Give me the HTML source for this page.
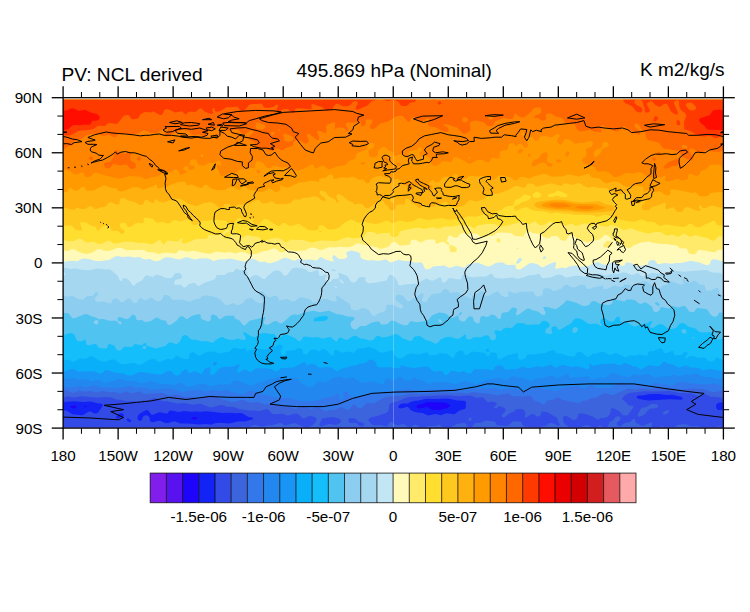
<!DOCTYPE html>
<html><head><meta charset="utf-8"><style>
html,body{margin:0;padding:0;background:#fff;width:750px;height:612px;overflow:hidden}
body{position:relative;font-family:"Liberation Sans",sans-serif;color:#000}
svg{position:absolute;left:0;top:0}
.t{position:absolute;font-size:19px;line-height:20px;white-space:nowrap}
.yl{position:absolute;left:0;width:42.5px;text-align:right;font-size:15.2px;line-height:17px}
.xl{position:absolute;top:447px;width:80px;text-align:center;font-size:15.2px;line-height:17px}
.cl{position:absolute;top:508px;width:100px;text-align:center;font-size:15.2px;line-height:17px}
</style></head><body>
<svg width="750" height="612" viewBox="0 0 750 612">
<defs><clipPath id="fc"><rect x="63.10" y="99.72" width="660.30" height="327.46"/></clipPath><clipPath id="mc"><rect x="63.10" y="97.70" width="660.30" height="330.40"/></clipPath></defs>
<g clip-path="url(#fc)">
<rect x="63.1" y="97.7" width="660.3" height="330.4" fill="#821eeb"/>
<path fill="#5812f0" fill-rule="evenodd" d="M63.1 428.1l660.3 0.0l0.0 -330.4l-660.3 0.0l0.0 330.4Z"/>
<path fill="#1e05fa" fill-rule="evenodd" d="M63.1 428.1l660.3 0.0l0.0 -330.4l-660.3 0.0l0.0 330.4Z"/>
<path fill="#1423f5" fill-rule="evenodd" d="M63.1 428.1l660.3 0.0l0.0 -330.4l-660.3 0.0l0.0 330.4ZM72.3 408.4l-1.0 -0.5l-1.0 -1.8l3.8 -0.7l2.4 0.7l-0.6 1.8l-1.8 0.6l-1.8 -0.1ZM85.1 407.4l-1.5 -1.3l1.5 -0.4l2.1 0.4l-2.1 1.3ZM191.5 419.0l-0.0 -1.6l1.8 -0.4l3.0 0.1l1.2 1.8l-2.3 0.7l-3.7 -0.6ZM433.6 410.1l-1.8 -0.4l-3.7 -2.3l-1.8 -0.5l-5.5 1.7l-1.9 -0.0l-1.8 -0.7l-0.8 -1.8l2.6 -1.6l3.7 -0.6l3.5 -1.5l2.0 -0.3l16.5 0.4l4.5 1.7l1.2 1.9l-2.5 1.8l-8.7 2.0l-5.5 0.2Z"/>
<path fill="#324be6" fill-rule="evenodd" d="M63.1 428.1l660.3 0.0l0.0 -17.9l-5.7 -0.5l-1.5 -1.8l-0.1 -1.8l0.3 -1.9l1.5 -1.1l5.5 -1.0l0.0 -304.4l-660.3 0.0l-0.0 304.4l11.0 -0.8l9.2 0.6l7.3 -0.5l5.5 1.5l5.5 0.8l1.1 0.5l-0.1 1.9l-2.8 4.1l-1.9 2.5l-1.8 0.8l-1.8 -0.1l-3.7 -2.0l-1.8 0.2l-5.5 3.5l-1.9 0.2l-9.1 -1.1l-5.5 -3.4l-3.7 -0.6l0.0 17.9ZM116.3 419.1l-0.1 -2.0l2.7 -3.7l2.9 -0.4l1.0 0.4l1.3 1.9l-0.5 1.3l-0.8 0.5l-6.5 2.0ZM127.3 421.1l-0.8 -2.2l0.8 -0.5l2.2 0.5l2.0 1.9l-0.5 0.9l-1.9 0.6l-1.8 -1.2ZM209.8 424.4l-3.7 -0.5l-7.3 0.5l-11.0 -1.0l-7.3 -0.0l-5.5 -1.8l-1.9 -0.0l-3.6 1.2l-3.7 0.5l-5.5 -2.2l-1.8 -0.3l-5.5 1.4l-1.9 -0.2l-1.2 -1.2l-0.6 -3.7l-1.8 -1.7l-1.9 -0.1l-1.8 0.7l-0.9 1.1l-0.9 2.8l-1.9 1.2l-1.8 -1.0l-0.7 -1.2l0.0 -1.8l0.7 -2.0l1.7 -1.7l5.6 -3.2l1.9 -0.2l1.7 1.6l1.9 2.8l1.9 0.3l5.5 -2.2l1.8 -0.3l5.5 1.3l1.8 -0.2l1.9 -2.5l1.8 -0.4l7.4 1.5l5.5 -1.0l7.3 0.9l3.7 -0.4l5.5 0.4l5.5 -0.6l16.5 1.8l7.3 -0.3l5.5 0.5l5.5 -0.1l1.8 0.4l5.6 3.5l3.6 0.5l1.6 1.4l-8.9 2.5l-7.4 0.2l-7.3 1.8l-11.0 -0.6l-3.7 0.4l-3.6 1.3l-1.9 -0.1ZM428.1 415.6l-5.5 -2.6l-5.5 -0.5l-3.7 -1.0l-3.1 -1.8l-2.4 -2.9l-7.3 1.6l-2.1 -0.5l-0.0 -1.8l1.8 -1.9l2.1 -0.8l5.5 0.1l1.7 -1.1l3.8 -1.3l5.5 -0.5l7.4 -1.8l9.1 0.2l12.9 -0.6l9.1 2.2l7.4 0.2l1.2 1.6l-0.3 5.5l-0.9 1.0l-5.5 1.7l-3.7 2.8l-1.8 0.8l-7.4 -1.0l-5.5 2.0l-5.5 -1.1l-7.3 1.5ZM639.0 399.0l-1.0 -0.2l-1.6 -1.9l0.8 -0.8l1.8 -0.6l3.7 0.1l5.5 -1.4l3.7 -0.2l7.3 0.0l7.3 1.0l5.5 -0.3l9.2 2.1l1.9 1.9l-1.9 1.1l-11.0 -0.6l-22.0 1.3l-9.2 -1.5Z"/>
<path fill="#3c64dc" fill-rule="evenodd" d="M71.7 428.1l0.6 0.0l3.6 -0.0l-1.8 -0.3l-2.4 0.3ZM85.8 428.1l1.1 0.0l8.2 -0.0l-2.7 -0.8l-3.6 -0.4l-1.9 0.3l-1.1 0.9ZM166.6 428.1l1.1 0.0l5.2 -0.0l-3.4 -0.8l-2.9 0.8ZM220.4 428.1l0.4 0.0l0.2 -0.0l-0.2 -0.1l-0.4 0.1ZM228.4 428.1l239.7 0.0l-1.6 -3.7l-1.7 -1.4l-3.7 0.2l-3.7 0.7l-5.5 2.8l-5.5 1.3l-3.6 -0.5l-3.7 -2.9l-3.7 1.5l-7.3 -0.1l-5.5 1.5l-1.8 -0.3l-5.5 -2.6l-1.9 0.6l-1.8 1.4l-1.8 0.4l-2.6 -0.7l-2.9 -2.1l-1.9 -0.1l-3.6 1.1l-1.9 -0.1l-2.2 -0.7l-3.3 -2.5l-1.8 0.3l-1.9 3.8l-1.8 0.6l-5.5 -1.7l-5.5 0.3l-1.8 -0.3l-1.9 -1.1l-2.7 -3.0l-0.1 -1.9l2.8 -1.7l7.4 -1.4l1.8 -1.0l5.5 -1.6l1.8 -1.2l1.1 -2.3l0.6 -5.5l2.0 -1.5l5.5 -1.3l11.0 -4.1l3.7 -0.6l5.5 0.2l7.3 -0.8l7.4 0.0l5.5 -0.7l11.0 -0.1l9.1 1.0l12.9 -0.7l4.4 1.3l1.1 1.0l5.5 -0.7l1.8 0.4l3.7 4.0l1.8 0.5l3.7 -0.5l3.7 0.8l1.1 1.8l-2.3 1.9l-0.7 1.8l1.9 0.7l1.2 -0.7l0.6 -1.0l1.8 -0.8l5.0 1.8l1.2 1.8l-0.7 1.9l-2.0 1.8l-1.1 1.9l-0.2 1.8l1.5 0.5l1.8 -0.6l3.7 -3.3l5.3 -2.1l2.0 -2.3l1.9 -0.4l3.6 0.2l1.8 0.6l1.7 1.9l0.4 1.8l-0.7 3.7l0.5 1.0l5.5 -3.6l1.8 -0.4l1.9 0.5l1.8 1.4l1.8 0.8l2.5 -1.5l1.2 -3.8l5.5 0.7l9.2 5.2l1.0 1.5l0.8 3.7l1.7 1.8l-1.7 1.5l-3.6 -1.9l-3.7 -1.1l-1.8 -0.0l-1.3 1.5l-2.4 1.5l-11.0 1.7l-10.5 -1.3l-1.8 -1.9l-0.6 -2.4l-1.8 -0.4l-5.5 -0.3l-1.8 0.5l-3.7 3.3l-1.8 0.9l-1.9 0.1l-7.3 -0.9l-1.6 -0.8l-0.5 -1.8l-1.6 -1.2l-9.1 -0.8l-3.2 2.0l-6.0 0.4l-1.8 0.9l-1.4 2.4l-1.9 1.8l99.3 -0.0l-2.5 -2.3l-2.4 -1.4l-1.6 -1.8l-0.5 -3.7l0.1 -1.8l0.7 -1.0l1.9 -0.2l1.8 0.5l5.5 3.5l1.8 -0.1l1.5 -0.9l1.4 -1.8l0.8 -3.4l3.7 -0.3l3.6 0.6l7.8 3.1l3.2 2.2l1.9 0.4l1.8 -1.4l5.5 -0.7l1.8 -1.1l2.6 -3.1l0.3 -3.7l0.8 -1.7l1.9 0.2l6.2 3.4l3.3 3.7l3.3 0.3l1.8 -0.7l4.9 -7.0l0.6 -1.5l0.9 -0.3l-4.5 -0.5l-1.9 -0.7l-1.8 -2.5l-4.3 -3.7l3.3 -3.6l4.7 -2.2l14.6 -1.6l9.2 0.2l16.5 -0.6l9.2 2.0l11.2 0.3l1.6 0.3l5.5 2.5l1.9 -0.0l3.6 -1.8l1.9 -0.1l5.5 2.6l6.6 0.2l6.2 1.0l0.0 -300.2l-660.3 0.0l0.0 300.2l3.7 -1.4l1.8 -0.1l5.5 1.0l7.3 -1.1l16.5 1.5l5.6 -0.8l5.5 0.2l1.8 0.1l5.5 2.1l5.5 0.6l5.5 1.6l5.5 -0.6l7.3 0.5l3.7 -1.1l5.5 -0.3l3.7 -1.6l1.8 -0.3l1.8 0.3l5.5 2.5l5.5 0.3l9.2 2.3l7.4 -0.6l9.1 1.7l3.7 -0.8l3.7 -0.1l7.3 2.9l3.7 0.8l9.1 -2.5l1.9 -0.1l3.6 1.9l7.4 0.1l5.5 2.2l9.2 1.3l5.5 0.1l5.5 0.8l5.5 -1.9l1.8 -0.1l1.8 0.4l3.7 4.0l1.8 0.6l9.2 -0.5l3.7 1.7l1.8 0.0l5.5 -1.8l1.8 -0.1l1.9 0.4l1.8 1.2l1.8 2.3l1.9 0.9l1.8 -0.1l3.7 -2.3l1.8 -0.1l4.3 1.2l1.9 1.8l-1.6 3.7l-1.9 1.8l-2.7 1.9l-3.7 1.1l-3.6 -0.7l-5.5 -2.1l-1.9 -1.2l-1.8 -0.4l-9.2 2.4l-1.8 -0.6l-1.8 -1.7l-1.9 -0.2l-7.3 2.4l-3.7 -0.1l-5.5 1.3l-3.6 -0.2l-3.7 -1.4l-1.8 -0.0l-3.7 1.7l-1.8 0.3l-5.6 -0.6l-5.5 1.4l-5.5 -0.3l-3.4 0.7ZM321.7 426.3l-1.8 -0.9l-0.5 -1.0l2.5 -5.5l1.7 -0.6l9.1 -1.4l7.2 2.0l1.1 1.9l-0.4 1.8l-3.3 1.8l-2.7 0.5l-3.7 -1.0l-1.8 0.0l-7.4 2.4ZM362.1 426.4l-1.8 -0.2l-2.6 -1.8l-1.1 -1.4l-7.4 -0.2l-1.1 -3.9l3.0 -1.0l1.8 0.0l3.3 1.0l2.2 2.8l3.7 0.6l1.8 1.2l0.6 0.9l-2.4 2.0ZM578.4 428.1l0.1 0.0l14.9 -0.0l-3.9 -2.3l-3.7 -0.7l-7.4 3.0ZM595.4 428.1l56.1 0.0l0.6 -5.5l-2.1 0.2l-5.5 2.7l-1.8 0.4l-1.8 -0.3l-5.4 -3.0l-0.1 -2.4l-1.1 -1.3l-0.8 -0.1l-3.6 3.5l-5.5 0.7l-3.7 3.2l-1.8 0.3l-2.1 -2.1l0.1 -1.8l2.5 -1.8l1.0 -1.9l-0.1 -1.8l-1.4 -0.8l-1.9 0.1l-1.6 0.7l-2.0 3.1l-3.7 1.9l-1.9 4.2l-1.8 1.4l-1.8 -0.0l-3.7 -2.2l-1.8 0.2l-3.3 2.4ZM657.9 428.1l1.3 0.0l6.2 -0.0l-2.5 -1.8l-1.9 -0.3l-3.1 2.1ZM672.7 428.1l1.2 0.0l27.9 -0.0l-2.2 -1.6l-1.9 -0.5l-7.3 0.3l-3.7 -1.7l-3.7 -0.4l-5.5 0.8l-4.8 3.1ZM710.7 428.1l1.7 0.0l9.9 -0.0l-1.8 -1.8l-2.6 -0.4l-3.7 1.5l-3.5 0.7ZM468.6 420.8l1.7 0.3l0.7 -0.3l0.8 -1.9l-1.5 -1.7l-2.1 1.7l0.4 1.9ZM523.5 418.9l0.0 0.0l-0.0 0.0l-0.0 0.0l-0.0 0.0ZM637.5 415.3l1.5 1.6l3.7 -1.3l2.9 -2.2l2.6 -3.3l1.8 -1.3l7.0 -0.9l1.4 -1.8l-1.4 -1.9l-3.3 -0.4l-2.8 0.4l-4.5 2.7l-5.0 1.0l-3.3 5.5l-0.6 1.9ZM662.4 413.4l0.5 0.8l1.8 0.4l2.6 -1.2l2.0 -1.8l-1.0 -1.9l-4.1 1.9l-1.8 1.8Z"/>
<path fill="#3278eb" fill-rule="evenodd" d="M322.5 409.7l2.9 1.7l3.7 -1.4l5.5 0.0l5.5 -2.8l1.8 0.1l5.5 2.4l1.8 0.1l3.7 -4.9l1.8 -0.3l3.3 3.3l2.2 0.5l1.9 -0.6l3.6 -4.1l1.9 -0.6l5.5 0.3l1.8 -0.6l10.8 -5.9l7.6 -1.0l7.3 -0.1l11.0 -2.2l7.3 0.5l5.5 -0.6l5.5 0.1l7.4 -0.9l11.0 -0.1l5.5 0.4l5.5 -0.6l7.3 1.0l7.4 -1.5l5.5 1.2l7.3 0.4l11.0 1.8l9.2 -1.9l1.8 0.2l3.7 2.9l5.5 -0.3l5.5 0.3l5.5 -0.8l1.8 0.2l1.3 1.0l0.7 1.8l1.6 1.9l5.6 1.8l3.7 2.3l0.9 -0.5l0.9 -1.8l1.8 -1.8l5.5 -0.9l3.7 -2.3l1.8 0.1l3.7 2.0l7.3 2.0l5.5 0.7l3.7 1.3l3.7 -2.6l3.6 -0.5l5.5 -2.2l5.5 -0.9l3.7 -2.2l3.7 -1.6l1.8 -0.2l5.5 1.8l1.9 -0.2l14.6 -6.5l7.4 1.0l5.5 -1.2l9.1 0.8l14.7 -1.1l18.3 1.7l9.2 -1.1l11.0 0.7l9.2 2.7l1.8 0.1l9.2 -1.6l0.0 -292.7l-660.3 0.0l0.0 292.7l3.7 0.2l5.5 2.1l1.8 0.1l3.7 -1.7l1.8 -0.3l5.5 0.9l5.5 -0.6l5.5 1.5l3.7 -1.2l3.7 -0.5l5.5 1.4l5.5 -0.3l5.5 1.7l5.5 -1.9l1.8 0.0l3.7 1.4l1.8 0.1l5.5 -1.8l1.8 -0.0l3.7 2.4l18.3 -0.9l7.4 2.4l1.8 0.1l3.7 -1.0l1.8 0.2l9.2 2.5l5.5 -0.4l5.5 1.7l1.8 0.0l5.5 -2.3l7.4 -1.0l5.5 1.7l3.6 2.2l11.0 3.0l5.5 -0.5l3.7 -1.9l1.8 -0.3l3.7 2.0l3.7 1.1l3.7 0.2l3.6 -0.6l1.9 0.3l5.5 2.2l7.3 -0.8l1.8 0.2l3.7 1.7l11.0 1.1l5.5 1.9l1.8 0.1l7.4 -2.2l3.6 0.6l3.7 1.8l1.8 -0.3l3.7 -1.4l1.8 -0.1l2.1 0.7l2.4 1.8Z"/>
<path fill="#2387f0" fill-rule="evenodd" d="M298.3 400.6l3.2 0.5l9.2 0.1l5.0 -0.6l4.2 -0.9l5.5 -2.1l5.5 -0.3l4.4 -2.2l1.1 -1.6l1.8 0.9l1.3 4.3l0.6 0.8l1.8 0.3l1.4 -1.1l0.3 -1.8l0.2 -1.8l-0.8 -1.9l0.7 -1.0l1.9 -0.9l1.8 0.6l1.7 3.2l2.0 1.7l1.8 0.7l1.8 -0.1l5.5 -2.2l5.5 0.1l3.5 -2.1l2.0 -0.6l1.9 0.0l3.6 1.0l1.9 -0.2l5.5 -1.8l7.3 0.3l7.4 -1.9l7.3 -1.1l12.8 1.9l11.0 -1.5l9.2 0.4l5.5 -0.7l7.3 0.3l5.5 -0.9l7.4 1.9l1.8 0.0l5.5 -1.7l11.0 -0.0l3.7 0.4l7.3 -1.1l7.4 2.2l5.5 -1.4l3.6 -0.1l16.5 2.4l3.7 -1.9l9.2 -1.5l1.8 0.3l1.9 1.3l1.4 0.4l5.9 -0.2l3.7 2.0l5.5 -1.8l3.6 -2.1l7.4 -0.7l3.6 -1.2l1.9 -0.0l5.5 2.5l1.8 0.3l1.8 -0.4l2.2 -2.1l1.5 -0.8l1.8 -0.1l1.9 0.5l3.6 3.1l7.4 -1.1l5.5 0.6l11.0 -5.8l1.8 -0.0l3.7 1.4l5.5 0.5l9.2 -0.8l7.3 2.4l1.8 -0.4l3.7 -2.1l1.8 -0.3l4.5 1.0l6.5 0.6l3.7 1.1l1.8 0.0l5.5 -3.3l7.4 -0.5l3.7 1.0l9.1 1.2l11.0 0.5l3.7 -0.8l3.7 -0.0l7.3 2.6l0.0 -288.7l-660.3 0.0l0.0 288.7l7.3 1.1l9.2 -1.2l5.5 1.1l9.2 -2.0l1.8 0.4l3.7 1.8l7.3 -0.1l5.5 0.5l11.0 -0.4l7.4 -1.8l3.9 1.9l8.9 -0.2l5.5 1.9l1.8 0.1l18.4 -0.7l7.3 1.2l3.7 1.9l1.8 0.5l7.4 -2.2l11.0 -0.0l5.5 1.2l7.3 -1.3l5.5 1.5l5.5 -1.7l1.8 -0.0l5.5 2.3l3.7 0.3l3.7 1.7l1.8 0.2l3.7 -0.9l3.7 -2.4l3.6 -0.5l11.0 4.2l7.4 0.9l3.6 1.8l9.2 -0.1l3.7 0.9l3.6 0.2l7.8 2.1ZM275.9 391.5l0.0 -0.1l1.8 -0.0l-0.0 0.0l-1.8 0.1Z"/>
<path fill="#1996f5" fill-rule="evenodd" d="M185.0 385.9l0.9 0.5l3.8 0.0l11.0 -2.8l4.6 0.4l4.5 2.2l3.4 -0.3l2.1 -0.9l3.7 -0.7l9.2 0.2l1.8 -0.5l3.7 -2.9l3.6 -0.6l7.4 2.4l3.7 2.6l1.8 -0.1l5.5 -1.2l3.7 -2.0l5.5 -1.1l3.6 -1.7l6.3 -0.9l4.7 -1.4l1.9 0.0l5.5 2.1l1.8 0.1l1.8 -1.4l1.9 -0.6l3.6 0.7l1.9 1.2l1.8 2.6l1.8 1.5l2.6 0.7l1.1 0.7l1.8 2.2l1.9 0.6l5.0 -1.6l3.0 -3.7l1.1 -0.8l1.9 -0.1l3.7 0.9l1.8 -0.2l7.3 -3.7l5.1 -1.6l2.3 -0.2l5.5 2.2l1.8 -0.0l3.7 -1.5l1.8 0.1l7.3 4.9l1.9 0.6l11.0 -1.6l1.8 0.3l1.8 1.5l1.9 0.6l3.6 0.4l1.9 -0.8l0.6 -2.8l1.2 -2.2l1.8 -0.0l3.7 1.9l1.9 0.2l1.8 -0.3l3.7 -2.7l1.8 -0.6l1.8 0.7l1.9 2.6l1.8 0.8l3.7 -0.5l3.6 -2.3l1.9 -0.4l3.6 2.2l5.5 1.5l1.9 2.0l1.8 0.5l7.3 -2.0l11.0 0.3l5.5 1.6l5.5 -0.3l1.9 -0.1l3.6 -2.0l1.9 -0.4l6.7 1.3l4.3 2.1l1.8 -0.3l5.5 -3.0l7.4 -2.1l9.1 -1.0l1.9 0.4l3.6 1.8l1.9 -0.1l3.6 -3.0l1.9 -0.7l1.8 -0.0l3.7 1.5l7.3 0.6l3.7 2.1l1.8 0.3l1.8 -0.4l3.7 -1.8l5.5 -0.4l3.8 -1.5l5.4 -1.3l1.8 0.1l3.7 2.2l1.8 0.1l3.3 -1.1l4.1 -2.9l1.8 -0.1l1.4 1.2l0.4 3.7l5.5 -1.7l5.5 0.7l7.4 -1.3l1.8 1.0l1.8 2.2l1.9 0.3l7.3 -2.8l3.7 1.2l1.8 -0.9l3.7 -3.4l1.8 -0.8l1.9 -0.0l1.8 0.3l3.7 1.9l9.1 1.6l1.9 -0.2l3.6 -2.8l7.4 1.5l5.5 -1.2l1.8 0.1l5.5 2.6l3.7 0.5l3.6 -0.9l5.5 -0.1l7.4 -1.6l1.8 0.2l3.7 1.4l3.6 -1.3l9.2 -0.7l1.9 -0.9l1.8 0.1l7.3 3.4l1.9 0.3l5.5 -0.5l5.5 2.1l3.6 -0.1l3.7 -1.1l0.0 -280.0l-660.3 0.0l0.0 280.0l5.5 1.3l5.5 -1.1l5.5 1.9l5.5 -0.9l1.8 0.4l3.7 1.9l1.8 0.0l5.5 -1.5l1.9 0.1l1.3 0.6l2.4 2.2l1.8 0.1l9.2 -2.0l5.5 -2.3l5.5 2.4l9.1 0.1l1.9 0.5l3.6 1.9l3.7 -0.3l5.5 -2.1l11.0 2.8l7.3 0.4l5.5 0.9l1.9 -0.1l3.7 -1.8l1.8 -0.1l3.2 1.0l1.3 1.9Z"/>
<path fill="#0aaffa" fill-rule="evenodd" d="M126.9 374.9l2.3 0.7l3.6 -0.3l5.5 -3.0l1.8 -0.4l3.7 0.3l7.3 1.6l9.2 0.8l1.8 -0.3l3.7 -2.7l3.7 -0.7l1.8 0.4l3.5 3.6l2.0 0.5l2.4 -0.5l3.4 -3.7l3.4 -2.1l0.7 0.3l1.1 2.1l1.9 1.4l3.6 -1.4l1.9 -0.3l1.8 0.6l3.7 2.2l1.8 -1.1l2.0 -3.5l1.7 -1.7l3.6 -0.5l0.7 0.3l0.0 1.9l-0.8 3.6l2.0 1.9l1.8 -0.5l1.8 -1.2l3.7 -4.4l1.8 -1.1l3.7 -0.9l7.3 -0.0l1.9 -0.4l3.6 -2.2l1.9 0.4l0.5 1.1l-2.4 4.4l-0.3 1.1l0.3 1.5l1.9 -0.5l3.6 -2.1l1.9 -0.3l1.8 0.1l3.7 2.1l1.8 -0.5l1.9 -2.1l1.8 -1.0l9.2 -0.4l7.3 1.2l3.7 2.3l1.8 -0.4l3.7 -3.1l11.0 -0.6l5.5 -1.8l5.5 -3.4l1.8 -0.2l1.8 3.6l3.7 -1.5l2.1 -0.2l1.6 0.3l3.6 2.9l1.9 0.6l7.3 -0.6l3.7 0.3l1.8 0.8l1.9 1.9l1.8 1.0l1.8 -0.3l3.7 -2.2l5.5 -1.4l3.7 -1.4l3.6 -0.1l5.5 -1.9l5.5 -1.0l3.7 -3.2l1.8 -0.0l1.9 0.6l2.6 1.8l1.1 3.7l1.8 1.6l11.0 0.0l9.2 1.1l1.0 -0.9l0.8 -1.8l1.8 -0.1l3.7 1.1l7.3 1.2l12.9 -1.5l3.1 1.1l1.6 1.9l2.6 1.8l1.8 0.4l5.5 -0.9l1.2 0.5l2.5 3.1l1.8 0.9l1.9 -1.2l1.8 -2.5l1.8 -0.7l7.4 1.4l3.6 -1.0l1.9 0.3l3.7 1.9l1.8 0.3l3.7 -4.3l1.8 -0.4l5.5 0.6l5.5 -0.5l5.5 1.3l1.4 -1.0l0.8 -1.9l1.5 -1.6l3.6 -0.7l2.4 0.5l3.1 3.5l1.9 0.4l9.1 -0.5l1.9 -0.4l3.6 -1.9l1.9 -0.2l3.6 1.8l3.7 -0.4l5.5 -1.6l1.8 -0.1l3.7 0.9l9.2 -2.4l1.8 0.7l1.9 2.0l1.8 -0.0l5.5 -2.4l1.8 -0.1l7.4 2.1l5.5 -0.8l7.3 1.7l3.7 1.4l2.3 -1.9l-1.3 -1.8l0.8 -2.0l3.7 2.0l9.1 -1.8l5.5 0.0l5.6 -0.5l1.8 0.4l3.7 1.8l5.5 -2.5l1.8 0.1l5.5 2.5l5.5 1.1l1.8 1.8l1.9 0.8l7.3 -3.8l1.8 -0.3l5.5 1.0l3.7 -0.2l0.8 -0.4l2.9 -3.6l1.8 -0.3l3.7 2.0l5.5 0.9l3.6 2.5l1.9 0.2l5.5 -1.7l1.8 -0.2l3.2 2.0l7.8 0.3l5.5 2.5l7.4 -1.2l12.8 2.1l0.0 -273.5l-660.3 0.0l0.0 273.5l2.0 -0.0l4.4 -1.8l2.8 -0.4l1.8 0.3l3.7 2.1l1.8 0.4l5.5 -0.6l7.3 0.1l3.7 0.7l3.7 1.5l2.7 -0.5l2.8 -3.1l3.7 0.5l5.5 2.0l9.1 1.1l3.3 1.4ZM213.5 365.8l-0.4 -0.1l-0.2 -1.8l0.6 -1.4l1.8 -0.9l1.2 0.4l0.7 2.0l-1.9 1.6l-1.8 0.2Z"/>
<path fill="#14befa" fill-rule="evenodd" d="M121.2 363.9l4.3 0.2l7.3 -1.2l1.8 0.1l3.7 1.7l1.8 -0.0l1.9 -0.5l6.3 -4.0l2.8 -0.9l3.7 -0.2l1.8 1.8l1.9 0.9l1.8 -0.1l7.3 -3.0l1.9 0.2l1.8 0.8l1.8 -1.0l1.9 -2.0l1.8 -0.6l7.4 2.9l3.6 0.1l1.1 -0.8l0.3 -3.6l0.5 -1.0l1.8 -1.3l1.8 -0.1l1.5 0.5l2.2 2.1l1.8 0.5l3.2 -0.7l2.3 -2.0l5.5 -1.2l5.5 0.2l3.7 1.7l11.0 -2.0l1.8 -2.4l1.9 -1.3l7.3 1.3l1.8 -0.0l1.9 -1.1l2.2 1.3l-1.6 1.8l1.2 0.6l1.9 -1.3l5.5 -0.7l3.6 -1.3l5.5 1.2l3.7 -0.2l3.7 -2.6l5.5 -0.5l3.6 -1.8l1.9 0.4l1.4 2.5l-2.4 3.7l1.0 3.1l1.8 1.2l2.1 -0.6l1.0 -3.7l0.6 -0.3l7.3 -0.4l3.7 -2.1l1.8 -0.1l2.6 1.1l0.7 3.6l0.4 0.7l1.8 1.0l1.8 -0.6l3.7 -3.8l3.7 -0.5l5.5 2.0l1.8 -2.4l1.9 -0.2l3.6 1.8l3.7 4.4l1.8 0.2l1.2 -0.7l0.1 -3.7l0.6 -0.7l1.8 -0.5l1.8 0.6l3.7 2.1l1.8 0.1l5.5 -1.1l3.7 1.3l1.8 -0.7l2.1 -2.9l1.6 -0.8l5.5 -0.1l3.7 -1.3l1.8 0.0l6.2 2.2l3.0 2.5l1.8 1.0l3.7 -0.1l7.3 -2.0l1.9 0.0l0.8 4.1l1.6 1.8l3.1 1.7l1.8 0.3l1.8 -0.3l3.7 -3.1l3.7 -1.3l1.8 -0.3l7.3 0.9l7.4 -2.2l1.5 0.6l2.1 2.8l7.4 -0.8l1.8 -1.5l7.3 0.3l1.9 1.0l3.6 3.1l1.9 -0.3l2.4 -4.6l2.9 -1.8l2.0 -0.5l1.9 0.5l1.8 4.0l2.5 -0.3l4.8 -3.2l5.5 0.8l5.5 0.1l1.5 0.4l2.2 3.0l1.8 0.0l1.1 -1.1l0.8 -2.1l3.6 -0.2l1.9 0.7l1.1 1.6l0.4 3.6l2.1 1.2l7.4 -4.0l9.1 -2.6l1.9 0.8l-0.0 5.0l1.8 1.0l1.8 0.0l3.7 -1.2l1.8 -3.5l1.9 -0.8l5.5 0.4l5.5 -1.1l5.5 -0.5l3.7 -2.1l3.6 -0.6l1.9 0.1l0.7 0.6l0.5 1.8l0.6 0.4l5.5 0.5l5.5 2.2l5.5 0.7l1.8 -0.1l1.5 -3.7l2.2 -1.1l1.8 0.1l1.9 0.9l3.6 3.0l1.9 1.0l1.8 -0.2l3.7 -3.1l3.6 -0.0l3.7 -1.4l1.8 -0.2l1.9 0.2l5.5 3.0l1.8 -0.2l1.9 -1.3l1.8 -0.5l1.8 0.3l7.4 3.8l1.8 0.1l3.7 -1.9l5.5 0.2l3.6 -0.9l7.4 1.1l1.4 -1.0l0.5 -1.9l1.7 -1.7l3.7 -0.1l5.5 -2.6l1.8 0.2l0.8 0.6l2.9 3.8l1.8 0.3l1.4 -0.5l4.1 -2.4l0.9 0.6l1.2 3.7l1.6 0.6l6.5 -0.6l1.0 -1.9l1.7 -1.3l2.5 1.3l0.1 1.9l-2.2 1.8l0.3 1.8l1.1 0.3l1.9 -2.1l1.8 -0.6l1.8 -0.0l3.1 0.6l2.4 1.4l5.5 -0.7l1.9 0.6l3.6 3.2l1.9 0.6l1.8 -0.1l1.8 -1.1l1.9 -2.8l1.8 0.1l3.7 1.8l1.8 0.4l0.0 -262.2l-660.3 0.0l0.0 262.2l5.5 -0.1l3.7 1.8l1.8 -0.2l5.5 -2.9l5.5 0.3l1.8 -0.5l1.9 -1.5l1.8 -0.7l1.9 0.4l7.3 4.3l3.7 0.9l1.8 -0.0l5.5 -2.3l3.7 0.2l1.3 0.6l2.3 2.1l3.1 1.6ZM486.8 351.9l-1.1 -0.8l0.5 -1.9l0.6 -0.5l1.8 0.1l1.1 2.2l-1.1 0.8l-1.8 0.1ZM521.6 351.3l-0.5 -0.3l2.5 0.0l-0.1 0.2l-1.9 0.1Z"/>
<path fill="#50c3f0" fill-rule="evenodd" d="M116.3 349.2l1.8 1.4l1.9 0.1l1.8 -1.3l1.8 -2.3l1.9 -0.4l5.5 0.2l1.8 -0.7l1.8 -2.3l7.4 1.3l1.8 -1.9l1.8 -0.3l0.6 0.7l0.2 1.8l8.4 2.8l1.8 0.0l9.2 -2.5l1.8 -2.2l1.9 -1.2l1.8 -0.2l3.7 1.8l1.8 0.2l3.1 -2.4l2.4 -5.5l1.9 -1.2l1.8 0.1l1.8 1.1l1.9 2.1l1.8 1.1l5.5 0.5l3.7 1.2l5.5 -0.2l5.5 1.6l1.8 -0.2l2.1 -2.4l5.2 -2.7l1.9 -0.4l3.6 2.2l1.9 0.4l5.5 0.4l3.6 -1.4l5.3 1.5l2.1 0.1l1.2 -1.9l-0.7 -1.9l-2.5 -3.6l2.0 -0.5l5.5 3.6l3.7 1.2l1.8 -0.1l3.7 -2.8l3.6 -1.1l1.9 -0.1l3.6 0.8l5.5 0.2l1.0 0.6l0.9 1.8l1.8 1.7l1.8 -0.3l3.7 -2.7l1.8 -0.4l1.9 0.2l8.8 3.4l2.2 2.5l1.8 0.5l1.6 -1.2l2.1 -3.3l1.8 -0.3l7.3 1.1l5.5 -0.6l3.7 1.4l1.9 0.1l5.5 -1.5l1.8 0.4l5.5 4.5l2.2 -3.6l1.5 -0.9l5.5 2.7l1.8 -0.2l5.5 -3.6l1.8 -0.4l2.1 0.5l3.4 2.1l3.7 0.3l5.5 1.7l1.8 0.2l1.9 -0.9l3.6 -3.6l1.9 -0.3l3.6 1.6l1.9 -0.1l5.5 -1.1l5.5 -2.1l2.7 0.4l4.7 3.7l7.3 2.8l1.8 -0.2l0.8 -0.8l1.0 -2.3l1.9 -1.3l3.6 -0.4l1.9 0.5l5.0 3.5l4.1 1.1l5.5 2.6l1.9 -0.4l3.6 -4.1l5.5 -2.2l3.7 -0.2l5.5 1.6l3.7 0.4l5.5 -4.4l0.8 0.1l0.5 1.8l-0.4 1.9l2.8 1.4l1.8 -0.3l3.7 -2.1l7.3 0.0l3.7 -1.6l1.8 -0.3l2.4 1.0l1.3 3.1l1.8 0.8l1.8 -0.1l1.8 -1.9l0.2 -1.9l-0.4 -1.8l-1.1 -1.8l-0.0 -1.9l1.4 -0.5l3.6 0.8l1.6 -0.3l2.1 -2.1l3.7 -1.2l3.6 0.8l1.9 -0.9l3.6 -3.6l1.9 -0.7l5.5 0.1l3.6 1.8l5.5 -0.6l5.5 0.1l1.9 -0.6l1.8 -2.6l1.9 -0.5l1.8 0.3l1.8 0.7l1.8 1.7l0.9 1.8l-1.1 1.8l-2.8 1.9l-0.8 1.8l0.2 1.9l1.8 1.0l3.7 0.3l1.2 -1.3l-0.7 -3.7l0.3 -1.9l2.9 -0.7l1.8 0.3l1.8 2.9l1.9 0.1l10.6 -6.2l4.0 -4.8l1.9 -0.5l3.6 0.6l1.9 0.8l5.5 4.0l1.8 0.5l7.3 -0.4l1.9 0.7l1.8 1.6l1.9 -0.7l-1.6 -1.8l-0.6 -1.9l0.6 -1.8l1.5 -1.3l1.9 -0.4l5.5 3.3l3.6 0.3l2.6 -3.7l1.1 -0.9l1.9 -0.3l1.0 1.2l0.1 3.6l0.7 0.5l5.5 0.2l1.8 0.7l3.7 2.6l3.7 1.2l3.6 -1.9l9.2 -2.2l1.8 -1.1l1.9 -0.4l0.8 0.4l-2.7 3.6l-0.3 1.9l0.3 0.5l1.9 0.4l1.8 -0.5l3.7 -2.6l3.6 -0.8l1.9 0.3l3.6 3.1l1.9 1.0l3.6 0.4l3.7 -1.0l1.3 -0.8l2.8 -3.6l3.2 -0.4l1.9 0.6l3.7 3.0l5.5 1.3l1.8 0.9l3.7 3.2l3.6 0.5l9.2 -0.7l1.0 0.8l1.0 3.6l1.7 2.7l1.8 0.7l1.8 -0.1l2.5 -1.4l1.2 -1.8l0.0 -238.7l-660.3 0.0l0.0 238.7l1.8 -1.6l1.9 -0.7l3.6 -0.9l1.9 0.1l2.0 1.2l2.2 5.5l1.3 1.3l3.6 -0.1l3.7 -1.8l0.6 0.6l0.5 3.7l0.7 1.1l1.5 0.7l6.5 -1.8l1.2 0.4l2.4 3.2l1.3 0.6l5.5 0.8l1.8 -0.6l0.7 -2.6l1.2 -1.4l1.8 0.1l3.7 1.6l1.8 3.4ZM314.4 321.4l-0.9 -1.5l1.3 -1.9l5.1 -1.5l3.7 -0.6l3.1 0.2l1.6 1.9l-1.4 1.8l-3.3 1.3l-9.2 0.3ZM143.5 349.2l2.1 -0.4l0.7 -1.5l-0.7 -1.3l-1.8 -0.2l-1.4 1.5l1.1 1.9ZM692.1 338.2l2.0 0.3l-0.0 -1.4l-1.9 0.4l-0.1 0.7ZM504.7 334.5l0.5 1.1l0.5 -1.1l-0.6 -0.4l-0.4 0.4ZM573.4 332.7l2.2 0.0l2.1 -1.9l0.2 -1.8l-1.2 -1.6l-1.9 -0.4l-1.8 1.1l-0.8 2.7l1.2 1.9ZM682.0 332.7l1.1 0.8l1.8 0.1l1.6 -0.9l0.0 -1.9l-1.6 -1.6l-1.9 -0.1l-1.8 1.7l0.8 1.9ZM616.4 323.5l0.6 0.5l2.0 -0.5l-2.0 -0.5l-0.6 0.5Z"/>
<path fill="#8ccdf0" fill-rule="evenodd" d="M353.1 329.0l1.6 0.4l1.9 -0.2l3.6 -3.2l5.5 -0.1l5.5 -3.1l5.5 -1.3l2.6 0.1l1.1 2.1l1.8 1.0l5.5 -0.7l2.0 -2.4l1.7 -0.9l1.9 -0.0l1.8 0.5l5.5 3.1l3.7 1.0l2.4 0.0l1.2 -0.5l2.2 -3.2l1.5 -0.4l5.5 1.0l11.0 -1.8l3.7 -5.0l7.3 -3.0l5.5 0.8l1.8 0.8l3.7 3.2l1.8 0.5l1.9 -0.2l3.6 -1.8l1.3 0.4l-0.2 1.9l0.6 1.8l2.0 1.2l1.8 0.4l1.9 -0.1l3.7 -4.6l1.8 -0.5l1.8 0.6l1.0 1.2l1.2 3.6l3.3 1.9l1.9 -0.6l0.7 -4.9l1.1 -1.8l1.8 -0.3l3.7 1.2l1.8 -0.5l1.9 -1.7l1.8 -0.3l1.8 0.4l1.9 1.2l1.8 2.4l1.8 0.4l1.1 -1.0l0.8 -4.3l1.6 -1.2l3.9 -0.3l1.8 -0.7l2.1 -2.7l1.6 -1.1l1.8 -0.2l2.4 1.3l0.3 1.8l-1.3 3.7l0.4 0.5l1.9 0.2l9.1 -6.2l1.9 -0.3l3.6 1.7l5.5 1.3l3.7 3.1l1.9 0.5l1.7 -0.8l0.2 -1.8l-1.9 -3.7l-0.3 -1.8l3.9 -0.1l7.4 2.2l1.8 -0.1l7.3 -5.5l1.9 -2.6l1.8 -0.6l9.2 2.8l5.5 2.6l3.6 0.2l3.2 -0.8l2.3 -3.4l1.9 -0.6l2.6 0.3l4.7 2.5l7.3 1.2l1.9 -0.2l2.5 -1.6l1.1 -3.7l1.9 -0.1l9.2 2.1l2.7 -2.0l4.6 -0.1l3.7 0.9l3.6 3.0l1.9 0.6l3.6 -1.7l1.9 0.5l5.5 3.9l1.3 3.9l0.5 0.7l1.8 0.7l1.9 -0.2l1.8 -1.2l1.8 -3.6l7.4 1.6l1.8 -0.9l1.8 -2.0l5.5 1.6l1.9 -0.0l3.6 -1.3l1.9 0.1l1.2 0.9l2.5 4.1l1.8 0.9l1.8 0.2l1.9 -0.5l1.1 -1.1l0.9 -1.8l1.6 -0.7l9.2 1.2l3.7 5.1l1.8 1.6l1.8 0.8l1.9 -0.1l1.2 -0.6l1.9 -3.6l4.2 0.2l0.0 -215.0l-660.3 0.0l0.0 215.0l5.5 0.7l3.6 4.6l1.9 0.5l10.4 -4.2l2.4 -0.3l3.7 2.1l6.5 1.9l0.8 1.2l5.6 -0.1l5.5 1.7l7.3 0.0l3.7 3.6l1.9 -0.9l-1.3 -1.9l-2.5 -0.7l-0.6 -1.1l0.6 -2.2l1.9 -0.6l5.5 2.0l1.8 -0.0l1.8 -0.8l1.9 -2.3l1.8 -1.3l1.8 0.3l0.9 1.2l1.0 3.7l1.8 0.4l3.7 -0.3l3.6 2.4l5.5 -1.4l3.7 -2.7l1.8 -0.7l1.9 0.5l1.8 1.5l1.8 0.7l3.7 0.4l1.8 4.0l1.9 0.5l1.8 -0.7l4.1 -2.8l2.0 -1.8l1.3 -2.1l1.8 -1.4l1.8 0.0l1.9 0.9l1.8 1.7l1.8 -0.1l3.7 -2.8l7.3 -1.9l0.9 0.2l1.0 1.1l-0.0 2.7l1.8 1.4l5.5 2.1l1.8 -0.6l0.9 -1.2l0.2 -3.7l0.8 -1.4l1.8 -0.2l3.3 1.6l2.2 2.8l1.8 0.1l3.7 -2.8l1.8 -0.4l7.4 0.0l0.8 0.3l0.0 1.9l1.0 0.8l3.7 1.5l3.6 4.7l1.9 0.4l5.5 -4.8l14.7 -3.5l1.0 0.9l-1.0 0.8l-1.1 2.8l-0.0 1.9l1.1 1.1l1.8 0.2l1.8 -0.4l5.1 -2.8l2.3 -0.5l1.8 0.3l1.8 1.8l1.9 0.4l3.0 -2.0l5.8 -5.5l4.0 -1.9l3.7 0.9l7.3 -3.1l9.2 -1.3l3.6 1.4l1.9 0.2l9.2 -1.6l7.3 3.4l5.5 0.7l5.5 1.6l5.5 0.5l1.7 1.1l-0.7 1.8l-2.4 1.8l-1.0 1.9l0.0 1.8l0.8 1.8l1.8 1.9ZM459.3 315.5l-0.4 -1.2l1.5 -1.8l0.7 -0.3l1.0 0.3l-0.9 1.8l-1.9 1.2ZM657.4 305.6l-1.8 -1.3l-0.6 -1.0l0.5 -0.8l1.9 -0.3l1.5 1.1l0.7 1.8l-0.4 0.9l-1.8 -0.4ZM94.1 323.5l2.0 1.1l1.8 -0.9l0.4 -2.1l-0.4 -1.2l-1.8 -0.4l-1.8 1.0l-0.4 0.6l0.2 1.9ZM438.7 321.6l2.2 1.4l1.2 -1.4l-1.2 -1.9l-1.8 -0.5l-0.6 0.6l0.2 1.8Z"/>
<path fill="#a5d7f0" fill-rule="evenodd" d="M371.5 314.3l1.5 1.4l1.9 -0.0l3.7 -2.5l5.5 -1.8l1.1 -0.8l0.7 -1.4l0.7 -4.1l1.1 -0.3l5.6 -0.1l5.5 3.2l1.8 0.6l1.8 -0.2l0.8 -1.3l-0.9 -1.9l-5.4 -3.9l-1.2 -1.6l-0.3 -1.8l0.6 -1.9l0.9 -0.8l1.9 -0.5l4.4 1.3l2.9 3.9l1.8 1.4l1.9 0.1l3.6 -2.7l4.7 -2.7l2.7 -2.5l1.8 -0.1l0.9 0.8l-0.0 1.8l-1.7 3.7l0.8 2.3l1.8 0.4l2.1 -0.9l3.5 -5.5l1.8 -1.5l1.8 -0.7l5.5 -0.1l1.8 -0.8l1.7 -2.4l2.0 -1.3l1.8 -0.2l1.9 1.5l1.8 2.5l7.3 -0.9l1.9 1.1l1.8 1.9l1.8 0.9l3.7 0.5l3.7 2.4l1.8 -1.0l0.0 -2.0l5.5 -2.4l3.7 -2.6l1.8 0.1l1.3 1.4l1.6 3.6l0.8 0.3l3.7 -0.9l3.6 -2.7l1.9 -0.9l1.8 0.1l0.9 0.5l3.3 3.6l3.1 1.0l1.9 0.1l1.4 -1.1l-0.3 -3.6l0.7 -0.7l1.8 0.2l3.7 1.4l1.8 0.1l5.5 -1.7l5.5 0.4l3.7 -0.6l1.8 0.1l1.0 0.8l2.1 3.6l2.4 0.6l1.9 -0.2l1.8 -0.8l0.8 -1.4l0.5 -3.7l0.6 -1.4l0.5 -0.4l3.1 -0.3l2.4 0.3l1.3 0.6l1.8 1.8l1.9 0.3l7.0 -2.7l2.1 -2.6l1.9 -1.2l1.8 0.0l2.7 2.0l2.8 0.7l1.8 -0.2l5.5 -2.5l3.7 -0.0l0.6 0.1l2.3 3.7l0.8 0.5l1.8 -0.1l3.7 -1.6l5.5 -0.8l3.6 -1.3l1.0 1.5l-0.2 1.8l1.1 0.7l4.4 -0.7l4.8 -2.9l1.8 -0.1l5.5 1.6l1.8 -0.5l1.9 -1.8l1.8 -0.4l7.3 1.2l1.9 -0.6l2.1 -2.0l7.0 -1.9l1.9 0.4l5.5 3.6l7.3 2.8l1.8 -0.4l1.9 -1.8l3.6 -1.0l3.7 -3.2l1.4 -0.3l7.8 3.0l1.8 0.5l1.8 -0.3l0.9 -1.4l-1.0 -1.8l-0.2 -1.9l0.3 -0.5l1.6 0.5l0.6 1.9l1.5 1.2l3.7 -0.3l3.7 -1.5l1.8 0.2l3.7 3.5l4.9 0.5l0.8 3.7l1.6 2.3l3.7 -0.4l5.5 -2.5l1.8 0.2l0.8 0.4l0.7 3.7l1.1 1.8l2.9 1.4l0.0 -197.8l-660.3 0.0l0.0 197.8l3.7 1.2l5.5 -0.9l5.5 3.0l3.6 0.9l1.9 -0.3l3.6 -3.1l5.5 -0.4l3.3 -3.6l1.7 -0.0l0.5 0.3l0.5 1.5l-3.3 3.7l-0.1 1.8l0.8 1.8l2.1 0.6l5.6 -0.6l5.5 1.9l1.8 0.2l0.5 -0.2l1.3 -3.7l1.9 -1.0l1.8 -0.2l1.8 1.1l1.9 2.1l1.8 0.7l1.8 -0.2l3.7 -3.3l1.8 -0.3l1.9 1.1l1.8 2.6l1.8 0.7l1.9 -0.2l1.3 -1.3l0.6 -1.8l1.7 -1.7l1.9 0.6l1.8 1.6l1.8 0.5l5.5 -3.1l1.9 0.9l1.8 1.9l1.8 1.0l1.9 0.0l1.8 -0.4l1.8 -1.3l1.9 -4.5l1.8 -0.2l3.9 1.0l1.6 2.9l1.8 1.1l9.2 -0.5l7.4 2.3l4.8 -2.1l4.3 -0.9l1.9 -0.9l1.8 -2.1l3.7 -0.3l4.6 0.5l6.4 1.9l3.6 2.3l3.7 4.1l1.8 0.9l1.9 -0.0l5.5 -2.0l1.8 1.5l1.8 0.6l3.7 -0.9l1.8 -1.0l2.8 -3.7l4.6 -1.5l1.8 0.1l3.7 3.2l1.8 0.8l3.7 1.4l1.1 -0.3l0.7 -1.9l-0.5 -1.8l-3.8 -5.5l0.3 -1.8l2.2 -1.1l1.8 0.5l3.7 4.1l1.8 1.1l1.9 0.1l3.6 -1.1l2.3 0.0l2.1 1.9l0.3 1.8l0.8 0.8l7.4 -1.4l5.5 2.4l1.8 -0.2l1.8 -0.8l2.8 -2.6l2.7 -0.6l7.4 1.9l1.8 1.2l1.8 2.2l1.9 0.3l5.5 -2.9l3.7 -0.8l3.6 0.1l5.5 2.1l3.7 0.2l0.5 -1.9l-1.2 -3.7l0.7 -0.1l3.7 1.6l3.6 2.9l5.1 3.0l1.3 1.8l1.0 4.1l1.8 0.9l3.7 0.3l1.8 -0.4l1.8 -1.3l1.9 -0.6l1.8 0.1l2.2 0.6l3.0 1.8l2.4 3.7ZM382.2 303.4l-1.3 -0.2l1.3 -0.1l0.0 0.3ZM470.3 294.8l-0.7 -0.7l0.7 -0.4l1.2 0.4l-1.2 0.7ZM706.9 283.1l-0.0 -0.0l-0.0 -0.0l0.0 -0.0l-0.0 0.0ZM546.4 299.6l1.0 0.0l-0.1 -0.9l-0.9 0.9Z"/>
<path fill="#c3e6f5" fill-rule="evenodd" d="M182.7 286.8l1.4 0.7l1.9 -0.6l1.8 -2.0l1.9 -1.1l3.6 -0.7l1.9 -0.0l1.8 2.2l1.8 0.7l5.0 -2.9l10.4 -3.7l1.1 -0.9l1.0 -2.8l0.9 -0.7l7.3 -0.1l3.7 -2.5l5.5 -0.4l1.8 -2.9l1.8 -0.4l1.9 1.2l1.8 0.4l3.7 -0.4l1.8 0.5l0.7 1.7l0.3 3.6l0.9 1.5l0.8 0.4l1.0 0.3l2.3 -2.2l3.2 -0.7l2.5 0.7l4.8 3.3l1.9 -0.1l3.6 -4.0l2.1 -1.0l1.6 -2.0l1.8 -1.0l1.9 -0.3l3.6 0.1l1.8 1.4l1.9 2.8l1.8 0.8l1.9 -0.4l5.5 -6.7l3.6 -1.1l6.8 0.9l2.4 0.8l3.7 3.1l1.8 -0.0l5.5 -2.0l1.8 -0.2l0.8 2.0l-0.2 1.8l0.8 1.8l2.3 0.4l3.7 -1.7l1.6 1.3l-1.7 1.9l-0.2 1.8l1.4 1.9l2.6 0.7l1.8 -0.4l1.8 -2.3l1.9 -0.6l3.6 0.1l0.9 -1.2l-0.9 -4.6l1.9 -0.1l6.6 2.8l1.8 1.9l2.0 3.7l2.4 1.1l1.8 -0.0l1.6 -1.1l2.1 -3.2l0.8 -0.5l2.9 -0.7l3.6 0.7l-0.5 1.8l0.3 1.9l2.1 1.5l1.8 0.4l5.5 -0.5l11.0 -1.9l1.3 -1.4l1.5 -3.7l0.9 -0.6l1.8 0.0l1.9 0.9l1.7 1.6l2.3 3.7l1.3 3.6l2.0 0.6l3.7 -1.0l12.8 -1.0l9.2 -5.0l1.8 0.4l1.8 1.3l1.9 0.5l1.8 -0.2l5.5 -3.1l1.8 0.1l0.9 1.9l-0.0 1.9l1.0 1.2l1.8 -0.2l1.8 -1.0l1.9 -2.7l1.8 -0.7l7.3 1.4l2.3 0.1l1.4 -0.5l1.0 -3.2l0.8 -0.9l1.9 -0.2l5.5 2.5l3.7 0.2l5.5 -0.9l3.6 0.3l3.7 -0.4l3.7 -2.6l1.8 0.2l1.8 3.3l1.9 0.8l5.5 0.4l11.0 -0.9l1.8 0.3l1.8 1.0l1.9 -0.0l5.5 -1.4l5.5 -2.2l5.5 -0.1l3.6 -1.4l1.9 0.5l1.3 3.4l2.4 0.4l7.3 -0.5l3.7 -1.9l3.6 -1.0l3.7 0.4l3.7 2.7l11.0 -2.2l7.3 1.3l14.7 -3.3l1.8 0.0l3.7 1.9l1.8 0.2l7.4 -2.0l5.5 0.2l3.6 -1.5l3.7 0.4l5.5 2.2l1.8 -0.2l3.7 -1.6l1.8 0.1l1.6 2.5l2.1 0.9l3.7 -0.8l2.0 -1.9l3.5 -1.0l5.5 0.7l5.5 -0.4l3.6 1.0l1.9 0.0l3.6 -3.4l1.9 -0.4l9.1 1.3l22.1 -1.6l1.8 0.2l5.5 2.3l7.3 0.2l1.9 0.7l1.8 2.3l0.0 -4.3l-0.5 -1.3l0.5 -1.8l0.0 -170.7l-660.3 0.0l0.0 170.7l1.8 -0.6l5.5 1.2l5.5 -0.6l5.5 1.3l7.4 0.5l1.8 -0.0l3.7 -1.3l3.5 -0.5l7.5 1.0l3.7 -0.2l2.3 1.0l6.5 5.5l2.2 5.4l1.8 -0.1l0.5 -1.6l1.3 -1.1l1.9 -0.0l2.8 1.1l4.5 6.0l1.8 -0.0l2.2 -2.3l5.2 -2.7l3.6 -4.9l1.9 -0.1l5.5 1.7l1.8 -1.7l1.8 -0.8l4.5 1.1l4.7 2.2l3.7 0.4l2.7 -0.7l2.8 -4.0l1.8 -0.7l1.9 -0.1l2.3 1.1l0.8 1.8l-0.0 1.9l-1.3 1.4l-3.7 0.4l-1.8 1.0l-1.0 2.7l1.0 2.0l5.5 -0.5l2.2 2.2ZM332.7 270.9l-1.2 -0.7l1.2 -1.1l3.6 1.1l-1.7 0.9l-1.9 -0.2ZM334.4 286.8l2.0 1.1l0.6 -1.1l-2.4 -0.5l-0.2 0.5ZM341.6 283.1l2.1 0.4l0.4 -0.4l-1.3 -1.8l-2.7 -2.3l-0.6 0.4l0.5 1.9l1.6 1.8ZM63.1 275.7l1.8 -0.4l0.7 -1.4l-0.7 -1.0l-1.8 -1.4l0.0 4.2ZM234.8 273.9l0.7 0.4l0.6 -0.4l-0.6 -0.7l-0.7 0.7Z"/>
<path fill="#fffab9" fill-rule="evenodd" d="M424.9 268.4l1.4 0.8l1.8 -0.0l2.2 -0.8l3.3 -2.1l5.5 -0.2l3.7 -0.7l1.8 0.1l3.7 2.1l1.8 0.2l3.7 -1.4l3.6 -0.6l5.5 1.6l1.9 0.0l2.6 -2.7l1.1 -0.5l7.3 -1.5l3.0 0.2l8.0 3.3l1.8 0.3l1.9 -0.5l5.0 -3.1l6.0 -0.7l1.8 0.5l3.7 2.2l8.8 -0.2l-0.3 1.9l0.5 1.8l2.0 1.0l1.8 0.1l1.8 -0.8l7.4 -5.1l1.8 -0.6l1.8 0.0l5.5 1.6l3.7 2.6l1.9 -0.1l5.5 -3.1l5.5 -2.0l1.5 0.9l-1.0 5.5l1.3 0.4l5.5 -1.2l3.7 0.6l3.2 -1.6l5.9 -1.1l1.9 0.0l1.8 1.1l1.8 0.3l7.4 -0.8l1.8 -0.5l4.6 -2.7l2.7 -0.8l1.9 0.2l3.6 1.9l3.7 0.6l1.8 -0.2l3.7 -2.3l1.9 -0.2l4.5 2.6l4.6 1.1l1.9 -0.1l1.0 -2.8l2.6 -0.6l3.7 1.0l3.7 2.1l3.6 0.6l8.2 -1.3l1.8 -3.6l2.9 -1.2l1.8 0.1l1.8 0.9l1.9 3.1l1.8 0.1l5.5 -1.1l7.3 0.7l3.7 -0.7l5.5 0.1l9.2 -2.3l9.2 1.8l5.5 2.2l1.8 0.2l2.0 -0.3l1.4 -1.8l0.4 -1.8l1.7 -1.9l3.7 0.2l7.3 2.0l0.0 -163.7l-660.3 0.0l0.0 163.7l3.7 -0.0l3.6 -0.7l7.4 0.6l2.7 -2.1l2.8 -0.6l5.5 0.3l7.3 2.0l3.7 0.1l9.2 -1.1l5.5 -3.2l3.6 -0.6l3.7 0.8l7.3 -0.5l5.5 1.2l3.7 -0.7l1.8 0.4l3.7 2.0l1.8 0.2l3.7 -0.7l5.3 2.3l2.0 0.1l3.7 -1.0l3.7 -2.3l1.8 -0.7l5.1 0.2l7.8 2.0l2.1 -0.2l5.2 -2.2l9.2 2.5l5.5 -1.3l7.3 0.4l2.2 0.6l3.3 1.9l5.5 -1.9l5.5 -0.0l5.5 -0.8l14.7 3.4l5.5 -2.5l3.7 -0.2l1.8 0.6l3.7 2.1l1.8 0.3l3.7 -0.6l3.0 1.4l2.5 0.3l7.3 -2.1l5.5 -3.0l1.8 -0.4l3.7 0.7l3.7 1.9l1.8 0.4l3.7 -1.8l7.3 0.8l5.5 -0.1l5.5 0.8l1.8 -0.8l1.9 -2.4l1.8 0.1l3.7 2.2l7.3 2.1l1.0 -0.5l-1.4 -3.7l0.5 -1.8l1.8 -0.3l3.6 3.3l1.9 0.5l3.6 -0.1l3.6 -1.6l-0.1 -1.8l-1.0 -1.9l0.4 -1.8l4.5 -1.3l1.8 0.1l4.5 1.2l2.8 1.5l0.4 0.3l-0.4 1.9l0.5 1.8l2.5 1.8l2.5 0.9l3.7 0.4l3.7 -0.4l5.5 0.8l7.3 -1.6l3.7 3.0l1.8 -0.1l7.4 -2.4l5.5 1.2l5.5 0.0l5.5 1.7l5.5 -0.4l1.8 1.1l2.3 5.0ZM516.1 263.8l-0.1 -0.9l2.0 -3.7l1.8 -1.4l1.8 0.7l0.4 0.7l-0.4 1.1l-1.8 2.1l-1.8 1.1l-1.9 0.3ZM543.7 259.5l-0.7 -2.1l0.7 -1.1l1.8 0.3l0.5 0.8l-0.5 1.1l-1.8 1.0ZM363.9 252.0l-0.6 -0.1l0.9 -0.0l-0.3 0.1Z"/>
<path fill="#ffeb69" fill-rule="evenodd" d="M84.5 253.7l2.4 0.3l5.5 -1.6l5.5 -3.4l1.9 -0.1l3.7 1.6l3.6 0.4l3.7 -0.5l5.5 -2.2l3.7 -0.4l2.3 0.4l3.2 1.6l1.8 0.4l12.8 -0.4l3.7 0.3l3.7 2.0l7.3 0.4l3.7 1.5l7.3 -1.4l9.2 0.8l1.8 -0.9l1.9 -2.0l1.8 -0.5l7.3 1.8l5.5 -1.1l14.7 3.0l1.8 0.0l7.4 -2.3l7.3 1.4l5.5 -0.7l5.5 1.4l5.5 -1.8l3.7 0.6l3.7 1.6l3.6 0.3l5.5 -0.6l5.5 -2.4l5.5 -0.6l3.7 -1.8l1.8 -0.4l1.9 0.4l3.6 2.9l1.9 0.7l2.8 -0.5l2.7 -1.9l1.8 -0.1l7.3 1.0l9.2 -0.5l3.8 -2.2l3.5 -0.6l3.5 0.6l3.9 1.9l1.8 -0.2l7.4 -3.0l5.5 0.7l5.5 -0.9l5.5 0.6l3.6 -0.2l2.5 -0.7l4.9 -2.8l1.8 -0.3l11.0 3.0l7.3 0.8l1.9 1.4l1.8 0.4l7.3 -2.0l1.9 -1.5l1.8 -2.4l1.9 -0.9l1.8 0.0l1.3 0.6l2.4 2.3l1.8 0.4l7.3 -0.3l1.9 -0.6l1.0 -1.8l-0.1 -1.8l0.9 -1.0l1.8 -0.3l3.7 0.9l3.7 2.2l5.5 -2.9l7.3 -0.5l2.0 1.6l-0.5 1.8l0.3 0.6l1.9 0.4l3.6 -1.7l1.9 -0.2l1.8 0.7l3.7 2.4l1.2 -0.4l-0.8 -1.8l-1.9 -1.8l1.5 -4.2l1.8 -1.4l3.7 2.1l3.6 0.0l3.4 -3.9l2.1 -0.7l1.9 0.1l1.0 0.6l0.8 2.0l1.9 -1.3l1.9 -0.7l6.1 0.0l4.8 3.6l1.8 0.2l5.5 -1.5l3.7 -0.1l1.8 -0.7l1.9 -1.6l1.8 -0.6l3.7 -0.4l9.1 0.7l1.9 0.9l1.4 1.4l2.2 0.7l7.4 0.3l1.5 -2.9l1.6 -1.8l2.4 -0.5l3.6 1.7l5.6 0.6l5.5 3.6l3.6 1.2l1.9 -0.4l1.8 -1.3l1.8 -0.6l3.7 -0.1l1.8 0.8l1.9 2.8l1.8 1.0l1.8 0.2l1.9 -0.2l3.6 -5.1l1.9 -0.4l1.8 0.2l3.7 3.4l11.0 3.9l3.6 -1.6l7.4 -1.1l3.6 -2.4l1.9 -2.3l1.8 -0.2l1.8 0.6l1.9 1.4l1.8 2.6l7.4 3.0l5.5 4.0l3.6 1.7l1.9 -0.1l3.6 -2.5l7.4 -3.0l5.5 -0.7l1.8 -0.7l4.3 1.5l8.5 1.4l5.5 -0.1l5.5 1.1l3.7 0.2l2.6 1.1l1.6 1.8l6.8 0.2l1.9 4.7l1.8 1.0l3.7 0.2l1.8 -0.6l1.8 -3.2l1.9 -0.7l14.6 2.5l1.4 -0.4l2.3 -2.0l3.7 -0.3l1.8 0.4l0.0 -152.3l-660.3 0.0l0.0 152.3l3.7 1.0l1.8 -0.3l3.7 -1.6l1.8 0.1l5.1 2.7l5.3 1.8ZM712.4 248.8l-1.1 -0.6l1.1 -0.4l0.6 0.4l-0.6 0.6ZM450.4 251.9l1.6 0.4l3.9 -0.4l1.1 -1.8l-0.3 -1.9l-1.8 -1.8l-4.8 -1.6l-0.7 1.6l0.3 3.7l0.7 1.8ZM615.3 250.1l1.7 0.8l0.8 -0.8l-0.8 -0.4l-1.7 0.4ZM516.1 248.2l1.9 0.8l0.4 -0.8l-0.4 -0.4l-1.9 0.4ZM603.3 246.4l0.9 1.1l1.8 0.1l4.9 -1.2l1.0 -1.9l-0.4 -2.2l-1.8 -1.6l-1.9 0.1l-1.8 0.7l-2.5 3.0l-0.2 1.9ZM496.4 240.9l1.4 1.5l1.8 0.0l1.2 -1.5l-0.8 -1.9l-2.2 -0.7l-1.3 0.7l-0.1 1.9ZM524.6 237.2l0.7 0.4l1.4 -0.4l-1.4 -0.6l-0.7 0.6Z"/>
<path fill="#ffde30" fill-rule="evenodd" d="M95.4 242.7l2.6 1.1l3.6 0.1l5.5 -2.9l1.9 -0.3l1.8 0.7l1.8 1.6l1.9 0.6l3.6 -0.4l5.5 -1.5l9.2 -0.0l5.5 1.4l5.5 -0.4l7.3 1.5l1.9 -0.3l5.5 -3.5l1.8 -0.6l1.8 3.1l1.9 1.5l2.7 -3.5l0.9 -0.5l9.2 1.0l2.2 -0.5l1.5 -2.3l1.8 -0.1l0.4 0.5l-1.2 1.9l0.2 1.8l2.5 0.7l3.6 -0.9l9.2 -3.7l9.2 0.2l1.6 -1.8l0.6 -1.8l1.4 -0.9l5.5 0.7l3.7 -0.3l3.4 -1.4l3.5 -3.6l2.3 -0.5l1.1 0.5l-0.3 1.8l-4.0 1.8l-1.1 1.9l-0.1 1.8l0.7 1.2l1.8 0.2l1.9 -0.8l3.6 -4.3l1.9 -0.6l1.8 -0.1l3.1 0.7l1.6 3.7l0.8 0.6l1.8 -0.1l3.7 -2.4l1.9 -0.0l3.6 1.0l5.5 0.3l1.9 1.0l1.8 2.4l1.8 0.9l9.2 -2.4l5.5 -0.4l3.4 0.9l3.9 3.0l1.9 0.2l3.6 -2.4l1.9 -0.4l5.5 0.7l5.5 -0.2l7.3 2.3l1.8 0.2l5.5 -1.5l3.7 -0.3l14.7 0.4l11.0 -4.1l5.5 1.6l9.2 -1.0l1.8 -0.7l1.1 -1.4l0.7 -2.2l1.9 -1.2l1.8 -0.3l3.7 0.4l3.1 1.4l0.5 1.1l3.7 -1.4l9.2 -0.4l0.8 0.7l0.0 1.9l1.0 0.9l1.9 0.7l1.8 -0.0l1.8 -0.5l1.4 -1.1l1.6 -3.7l0.7 -0.5l1.8 -0.7l12.9 -2.5l3.6 -0.2l5.5 1.1l9.2 -1.9l1.8 1.2l1.9 0.6l1.8 -0.3l5.5 -2.0l7.3 0.2l7.4 -1.4l11.0 0.8l3.7 2.3l1.1 -0.4l2.5 -2.6l9.2 -1.5l3.7 -0.2l3.6 0.4l1.9 0.6l3.6 2.0l1.9 0.0l20.1 -4.8l1.9 0.1l3.6 2.3l1.9 0.0l5.5 -2.7l1.8 0.6l1.8 2.2l1.9 0.7l1.8 0.1l3.7 -0.8l3.7 -3.1l1.8 -0.1l1.8 1.5l1.9 0.8l5.5 0.0l3.6 1.7l1.9 0.3l5.5 -2.0l3.6 1.9l3.7 0.0l5.5 -2.0l1.8 -0.2l3.7 3.0l1.8 -0.3l3.7 -2.0l1.8 -0.3l3.7 2.1l3.7 0.9l3.6 -0.2l3.7 -1.5l5.5 1.6l5.5 3.3l1.9 0.3l1.8 -0.2l3.7 -1.6l1.8 0.2l3.7 1.7l5.5 1.2l5.5 1.8l3.6 0.0l5.5 -1.3l3.7 -0.0l1.8 0.4l5.5 3.5l5.5 -1.3l5.5 2.1l1.9 0.0l3.6 -2.7l1.9 -0.2l3.7 2.6l1.8 0.4l5.5 -1.6l5.5 2.0l5.5 0.6l5.5 3.0l1.8 -0.2l1.9 -1.4l1.8 -2.6l1.8 -0.5l1.9 0.2l1.8 1.7l0.0 -140.2l-660.3 0.0l0.0 140.2l1.8 2.6l1.9 0.5l7.3 0.1l3.7 -2.2l1.8 -0.3l1.8 0.4l3.7 3.1l1.8 0.5l5.5 -0.8l1.9 0.3l1.1 0.6Z"/>
<path fill="#ffc81e" fill-rule="evenodd" d="M120.6 233.5l1.2 0.6l1.8 -0.5l1.0 -1.9l-0.8 -1.8l-2.0 -0.7l-1.2 -1.2l-0.6 -1.7l-0.0 -2.4l1.8 -1.3l3.7 0.3l1.1 1.5l0.7 2.1l1.8 0.7l2.9 -1.0l2.6 -2.5l1.9 -0.8l1.8 -0.1l3.7 0.5l1.8 -0.7l-0.2 -3.8l0.2 -0.6l1.8 -0.7l6.9 1.3l4.1 3.9l5.5 -0.8l5.5 1.5l1.9 -0.2l3.2 -2.5l2.3 -0.7l1.8 0.2l3.7 1.4l5.5 -2.1l1.8 0.1l2.0 1.1l2.4 3.7l3.0 0.5l2.1 -0.5l5.2 -3.5l1.8 -0.4l1.9 0.4l9.1 -1.4l5.5 1.0l3.7 0.0l1.8 0.7l1.9 1.7l1.8 0.7l1.8 -0.0l2.5 -1.1l3.0 -3.6l1.9 -0.8l1.8 0.2l3.7 2.5l3.7 -0.5l3.6 -1.6l1.1 3.8l0.8 1.3l1.8 0.9l1.8 -0.0l1.9 -0.7l3.6 -3.9l1.9 -1.2l1.8 0.0l11.0 7.1l1.8 0.0l3.7 -3.1l1.8 0.1l3.7 2.6l1.8 0.2l3.7 -0.6l3.7 -1.4l1.8 0.3l1.8 1.7l3.7 1.6l2.8 2.5l4.5 0.6l5.5 -0.6l0.9 -3.7l1.0 -1.0l1.8 -0.3l2.6 1.3l2.9 2.8l1.9 0.6l3.6 -0.1l3.7 -0.7l2.1 -0.8l5.2 -4.8l4.2 -2.5l3.2 -1.0l1.8 0.4l3.7 2.1l1.8 0.5l2.0 -0.2l3.5 -1.3l5.5 1.9l5.5 0.9l3.7 -0.4l7.3 -2.8l1.8 -0.2l3.7 2.5l1.9 0.0l5.1 -2.4l2.2 -0.3l5.5 1.5l3.7 -0.1l4.1 -1.1l5.0 -2.7l9.2 1.9l12.8 -1.6l1.9 -0.0l5.5 1.4l5.5 -0.5l5.5 0.4l3.6 -0.8l3.7 -2.3l3.7 -0.3l5.5 0.6l11.0 -3.3l2.5 3.5l1.2 0.6l2.0 -0.6l1.4 -3.7l2.0 -1.8l5.6 -1.4l3.6 -3.2l1.9 -0.8l5.5 -0.2l1.3 -1.7l1.1 -3.7l1.2 -1.0l3.7 -1.1l3.6 -3.4l1.9 -0.3l2.6 0.3l3.8 1.8l-0.9 0.2l-0.7 1.7l-3.0 2.0l-5.4 1.6l-3.7 2.6l-3.5 1.1l-0.6 1.8l0.4 1.9l1.8 1.3l5.5 -2.7l3.7 -1.1l1.8 0.3l3.7 2.0l3.7 1.2l11.0 0.8l3.7 1.6l1.8 0.3l5.5 -0.8l7.3 1.1l3.7 -0.1l5.5 1.2l18.3 0.1l1.9 0.3l3.6 1.7l5.5 -1.7l3.7 -0.4l2.4 0.4l3.1 1.7l7.4 2.4l11.0 2.2l5.5 0.0l5.5 -1.9l1.8 -0.0l3.7 1.8l7.3 0.6l1.6 0.5l3.9 3.5l7.3 -1.6l16.5 2.6l3.2 -0.8l2.4 -2.1l1.8 -0.3l1.8 0.7l3.7 2.4l3.7 0.4l1.8 -0.5l3.7 -2.6l3.6 -1.3l3.7 -2.0l1.8 -0.1l1.7 1.7l0.5 1.9l1.5 0.8l5.5 0.3l0.0 -127.8l-660.3 0.0l0.0 127.8l7.3 0.1l1.9 0.6l3.4 3.7l3.9 0.7l1.8 -0.0l0.9 -0.7l-1.9 -5.5l-0.2 -1.9l1.2 -0.3l4.6 0.3l4.6 2.9l5.5 1.6l0.7 2.9l1.1 0.5l1.3 -0.5l2.4 -2.8l1.8 -0.9l3.7 -0.9l1.9 0.3l0.6 0.6l1.5 3.7l1.5 0.8l5.5 0.4l2.5 2.4ZM253.9 217.4l-0.3 -0.4l0.3 -0.2l0.2 0.2l-0.2 0.4ZM534.5 197.5l-1.7 -0.7l-0.2 -1.8l1.9 -2.3l1.8 -0.6l1.8 0.1l2.1 0.9l1.0 1.9l-0.7 1.8l-2.4 1.1l-3.6 -0.4ZM549.2 197.1l-1.0 -0.3l-0.3 -1.8l1.3 -0.8l5.5 -1.4l1.8 -1.8l1.8 -0.3l6.2 2.4l3.0 1.9l-0.2 1.8l-1.6 0.4l-3.7 0.0l-5.5 -1.7l-1.8 0.4l-1.3 0.9l-4.2 0.3ZM319.0 231.7l0.9 0.6l2.8 -0.6l-2.8 -0.8l-0.9 0.8Z"/>
<path fill="#ffb20f" fill-rule="evenodd" d="M88.6 213.3l0.6 0.0l-0.4 -0.6l-0.2 0.6ZM571.7 211.5l4.9 0.8l9.2 0.4l16.5 -0.6l9.2 -1.2l1.9 -0.6l0.7 -0.6l0.4 -1.9l-1.3 -1.8l-1.7 -0.8l-6.0 -1.0l-5.0 -2.5l-1.8 -0.4l-16.5 1.1l-11.0 -1.2l-5.5 -1.2l-11.0 -0.5l-14.7 2.0l-3.3 0.8l-2.5 1.9l0.4 1.8l2.9 1.8l2.5 0.7l11.0 1.8l20.7 1.2ZM676.4 211.5l3.0 0.5l3.3 -0.5l1.8 -3.7l2.2 -0.8l1.9 0.3l7.3 3.1l3.7 0.5l1.2 -1.2l-1.6 -1.9l-0.7 -1.8l1.1 -0.6l1.8 0.4l0.9 2.0l0.9 0.5l3.7 -0.5l2.8 -1.8l2.7 -0.4l7.3 2.0l3.7 -0.3l0.0 -109.6l-660.3 0.0l0.0 109.6l9.2 2.5l2.4 -0.1l1.2 -1.6l1.9 -0.2l3.6 1.0l3.7 -0.0l3.7 -2.3l1.8 -0.4l1.8 0.6l1.9 2.3l1.8 -0.2l3.7 -1.2l5.5 -0.9l3.7 -4.0l1.8 -0.5l5.5 2.2l1.8 0.1l1.1 -0.4l0.8 -4.8l0.5 -0.7l1.3 -0.5l1.8 0.0l5.5 2.6l5.5 1.3l3.7 2.2l1.8 0.6l1.9 -0.1l1.2 -0.6l1.6 -3.7l0.8 -0.8l2.6 0.8l2.9 2.3l1.9 0.4l1.3 -0.9l0.5 -2.0l1.8 -1.3l0.7 1.5l1.2 0.7l3.6 1.4l1.9 -0.1l5.5 -2.3l3.6 0.4l3.7 -1.8l1.9 -0.2l5.0 1.9l4.1 3.0l7.4 2.3l1.9 0.2l5.4 -2.4l7.3 -1.6l3.7 1.1l5.5 4.2l1.8 0.5l1.9 -0.8l1.8 -2.7l1.8 -0.6l3.7 0.7l1.8 2.0l1.9 1.2l1.8 -0.7l1.8 -1.9l1.9 -0.5l5.5 -0.3l7.3 -1.7l3.4 -2.0l2.1 -0.6l1.9 0.4l1.8 2.4l1.8 0.8l3.7 -0.1l3.7 -1.8l1.8 -0.3l4.0 2.9l10.7 -0.2l3.6 -1.0l3.7 -3.8l5.5 0.6l3.7 -2.1l5.5 -0.0l5.5 -1.6l3.6 1.2l4.1 3.2l1.5 0.5l1.8 -0.4l0.3 -1.9l-4.0 -2.9l-2.0 -2.7l-0.2 -1.8l2.2 -0.9l1.9 0.5l1.8 1.2l3.7 4.4l5.1 2.2l1.4 1.8l0.8 2.0l1.8 0.2l0.3 -0.4l-0.2 -1.8l-1.4 -1.8l-0.4 -1.9l0.4 -1.8l1.3 -1.0l3.7 1.6l6.3 4.9l4.0 1.8l2.5 2.1l1.9 -0.2l1.8 -0.8l3.7 0.5l3.3 3.9l2.2 0.5l1.8 -0.5l3.7 -3.4l4.0 -2.1l1.5 -2.4l1.8 -0.9l2.4 1.5l2.3 3.7l2.6 1.8l2.2 3.7l1.5 0.5l1.9 0.1l1.5 -0.6l0.9 -1.9l0.2 -1.8l1.0 -1.4l7.4 -0.0l0.7 -0.4l0.1 -3.7l1.0 -1.5l1.8 -0.0l1.9 1.3l1.8 2.5l5.3 3.2l2.0 2.1l2.4 -0.3l0.6 -1.8l-1.1 -1.9l1.8 -0.3l1.8 1.3l3.1 0.9l4.3 0.7l1.8 -0.2l4.5 -2.3l6.5 -2.5l2.3 0.6l4.0 3.7l6.5 1.3l7.4 -2.2l3.7 -4.1l1.8 -0.9l5.5 1.4l1.8 -0.3l7.2 -2.5l2.2 -3.7l1.6 -0.8l9.2 -0.5l11.0 -4.0l5.5 -3.4l1.8 -0.4l1.9 0.2l5.5 2.0l1.8 -0.9l1.8 -3.1l1.9 -0.6l3.6 0.2l3.7 2.6l1.8 0.3l12.9 -3.4l9.2 2.5l1.8 -0.2l1.8 -1.9l1.9 -0.3l5.5 1.5l1.8 -0.0l5.5 -1.7l1.8 0.3l5.5 3.5l1.9 0.6l1.8 -0.0l3.7 -1.0l5.5 1.5l7.3 -0.1l3.5 1.6l2.0 2.4l7.4 2.3l1.8 0.3l3.7 -1.9l3.1 0.5l2.5 1.9l0.6 1.8l-0.2 5.5l0.4 1.9l0.9 0.7l7.3 -1.5l3.7 -3.1l1.8 0.5l0.9 1.5l-2.7 2.1l-1.0 1.6l-0.0 1.8l1.0 1.9l1.8 0.5l3.7 0.0l1.2 -0.5l2.5 -2.6l7.3 -2.0l5.5 -2.5l1.3 1.6l-0.9 3.6l1.4 1.5l5.5 -1.8l1.9 -0.1l2.5 4.1ZM391.4 202.7l-1.3 -2.2l0.5 -1.8l0.8 -0.7l1.9 0.8l0.6 1.7l0.1 1.8l-0.8 0.6l-1.8 -0.2ZM382.0 207.8l0.4 0.0l0.2 -1.8l-0.4 -0.1l-0.2 1.9Z"/>
<path fill="#ff9b00" fill-rule="evenodd" d="M571.3 209.7l7.2 1.0l9.2 0.3l10.9 -1.3l5.6 -1.1l2.0 -0.8l-10.6 -3.6l-20.8 -0.4l-11.0 -2.2l-12.8 -0.1l-4.3 0.8l-5.0 1.9l-0.2 1.8l5.8 1.8l9.2 1.3l11.0 0.1l3.8 0.5ZM665.3 195.0l3.1 0.6l1.2 -0.6l0.8 -1.9l-0.0 -1.8l0.7 -1.8l0.9 -0.2l11.0 1.6l7.4 1.9l1.8 0.1l1.9 -0.6l1.8 0.2l3.7 3.4l1.8 0.5l5.5 -0.2l1.8 -0.9l1.9 -2.0l1.8 -0.5l5.5 -0.6l5.5 0.1l0.0 -94.6l-660.3 0.0l0.0 94.6l3.7 -0.2l1.1 -0.8l0.7 -2.6l1.8 -0.6l3.7 2.3l1.8 0.2l1.9 -0.2l3.6 -3.0l1.9 -0.7l1.8 0.8l0.4 2.0l1.4 1.0l5.5 0.3l1.9 -0.5l8.6 -4.5l2.4 -0.3l4.3 2.1l6.7 0.9l1.8 1.9l1.9 1.1l5.5 -1.0l5.5 -2.5l3.6 -0.7l4.9 0.3l2.5 2.1l1.8 -0.1l9.2 -3.2l1.8 -1.3l1.8 -0.3l0.6 1.0l-0.3 1.8l1.6 0.8l10.1 -2.6l8.2 -3.4l7.4 -0.7l1.5 0.4l0.3 2.1l1.8 1.0l3.7 -0.7l1.8 0.4l5.4 2.7l2.0 0.4l2.0 -0.4l1.6 -2.3l1.9 -0.7l5.5 4.1l3.6 1.1l5.5 0.5l3.7 -0.2l5.5 -3.2l3.7 0.5l5.5 2.5l1.8 -0.3l0.2 -3.8l1.6 -0.5l5.6 3.9l1.8 0.7l5.5 0.7l1.8 1.2l1.9 0.5l5.0 -1.0l4.1 -2.5l1.9 -0.2l1.7 0.9l1.9 2.1l1.9 0.3l2.8 -0.6l1.6 -1.8l-0.0 -1.9l-0.8 -2.0l1.9 0.0l3.6 1.6l3.7 0.3l5.5 -2.8l5.5 -2.1l3.7 -0.2l7.3 -1.6l3.7 0.3l4.3 1.0l0.9 -3.6l5.8 -0.8l1.8 -1.1l1.9 -1.9l1.8 -0.5l1.6 0.6l1.1 3.7l1.0 0.4l7.3 -1.6l5.5 0.4l5.5 -1.0l1.8 0.5l3.7 2.6l3.7 -0.2l1.8 0.4l1.1 2.1l2.6 1.3l1.8 -0.7l1.1 -2.4l1.5 -1.8l4.7 -2.2l3.7 -0.3l12.9 3.2l3.6 -0.1l1.9 0.5l7.7 6.2l1.4 2.5l1.9 1.7l2.9 -0.5l1.8 -1.9l0.8 -1.5l1.8 -0.7l7.3 1.9l2.1 2.2l1.6 0.8l1.8 0.1l2.0 -0.9l0.7 -1.9l-0.1 -1.8l-0.7 -0.5l-1.9 -0.2l-1.6 -1.1l1.6 -2.2l3.7 -1.7l1.8 2.4l1.9 0.1l1.8 -0.8l3.7 -4.2l1.8 -0.5l7.3 -0.5l3.7 -2.5l2.0 0.7l-0.0 1.8l-3.8 2.6l-0.5 1.1l0.5 1.9l2.7 -0.1l2.8 -2.4l6.9 -1.2l2.3 -1.9l1.8 -0.7l9.2 0.7l3.6 -0.8l3.7 0.1l2.1 0.7l3.4 3.2l1.8 -0.0l1.9 -1.3l1.8 -2.4l1.8 -0.6l3.7 -0.1l7.3 2.2l3.7 2.4l1.8 0.5l1.9 -1.0l1.8 -2.4l3.7 -0.1l5.5 1.5l4.8 -1.9l9.9 -2.8l1.8 0.2l5.4 2.6l1.9 0.2l11.0 -0.6l3.7 -1.8l3.7 0.3l7.3 1.9l9.2 -2.6l1.8 0.3l1.8 2.7l1.9 0.7l3.6 0.2l2.6 0.6l3.9 3.6l2.7 1.2l1.8 -0.1l3.7 -1.5l3.7 -0.1l3.7 0.7l4.8 3.5l2.5 0.9l1.8 0.2l5.5 -1.2l5.5 0.3l1.9 0.3l2.5 1.3l0.2 3.7l0.9 0.7l1.9 -1.2l1.8 -0.3l5.5 1.5l5.5 -0.5l1.8 0.4l4.3 3.1ZM219.0 188.0l-0.2 -0.3l0.2 -0.5l0.1 0.4l-0.1 0.4ZM365.7 177.4l-0.5 -0.8l0.5 -0.7l1.5 0.7l-1.5 0.8ZM411.6 182.6l-1.8 -1.5l-0.4 -0.8l0.4 -0.7l2.3 0.7l0.5 1.8l-1.0 0.5Z"/>
<path fill="#ff8400" fill-rule="evenodd" d="M574.8 207.8l9.2 1.4l5.5 -0.3l4.9 -1.1l-1.2 -1.2l-1.8 -0.6l-9.2 -0.2l-3.8 0.2l-3.6 1.8ZM549.5 206.0l8.8 1.8l11.0 -1.1l2.7 -0.7l-8.2 -2.4l-9.1 -0.5l-5.7 1.1l0.5 1.8ZM68.0 180.3l0.8 0.0l-0.2 -1.8l-0.0 -0.0l-0.6 1.8ZM664.5 180.3l2.0 1.0l1.9 -0.0l4.6 -1.0l4.5 -1.8l3.7 1.9l5.5 -0.7l1.1 -1.2l0.8 -4.2l1.8 -0.8l5.5 2.3l1.8 0.0l1.6 -1.0l1.7 -3.7l5.2 -1.8l3.2 -3.7l1.2 -0.7l1.8 -0.4l7.3 0.3l1.2 0.8l2.5 3.1l0.0 -71.0l-660.3 0.0l0.0 71.0l1.8 1.1l5.4 1.3l3.8 3.3l1.8 0.2l5.5 -2.0l1.9 0.2l1.5 3.8l2.1 0.7l3.7 -0.7l3.6 -3.6l1.9 -0.4l7.4 2.4l14.6 3.4l3.7 -0.1l5.5 -1.9l3.7 -0.4l3.6 0.5l5.5 -0.1l3.9 2.1l1.6 0.4l1.9 -0.1l3.6 -1.6l7.1 -0.6l3.9 -3.7l9.2 -0.6l3.7 -3.1l1.8 0.2l1.7 1.7l0.2 1.9l1.8 1.8l5.5 -1.8l0.9 -1.9l-2.7 -1.0l-0.9 -0.8l0.2 -1.8l2.5 -1.5l1.8 -0.2l0.6 1.7l-0.1 1.8l1.4 0.8l3.8 -0.8l1.5 -1.8l-1.7 -1.7l-3.6 -0.8l-0.5 -1.2l1.5 -3.7l2.6 -0.9l1.9 0.2l1.1 0.7l1.4 3.7l1.1 1.0l3.7 0.9l1.8 -0.1l3.7 -2.5l1.8 -0.4l3.7 0.3l1.8 -0.6l1.9 -1.4l1.8 -0.2l1.4 1.1l0.4 1.2l0.0 2.1l-3.6 -0.1l-0.4 0.5l-0.1 1.9l2.1 3.6l1.3 3.7l0.7 0.7l1.9 0.5l3.6 -1.0l1.9 -1.6l1.3 -0.4l6.0 -0.1l3.7 -2.8l1.8 -0.6l5.5 -0.3l1.9 -1.2l5.5 -0.0l0.7 -0.5l1.2 -5.6l1.7 -1.0l4.4 1.0l2.1 1.9l1.0 1.8l1.7 1.9l1.8 0.5l1.9 -0.1l3.6 -2.5l7.4 2.1l5.5 -0.5l2.8 2.3l2.7 0.7l7.3 0.3l3.7 -1.2l9.1 -5.0l1.2 1.5l0.6 1.9l1.9 1.2l3.7 -2.4l1.8 -0.6l1.9 0.0l1.8 1.0l1.8 1.9l1.9 0.6l1.8 -0.3l5.5 -2.4l7.3 -0.9l1.9 -0.6l3.6 -4.0l5.5 -1.9l0.7 -0.8l0.8 -3.7l2.1 -1.8l9.0 -3.7l0.3 -3.8l1.2 -1.7l2.4 -0.7l2.6 0.7l0.6 1.8l-0.5 1.9l-0.8 0.8l-3.7 1.7l-1.2 1.1l1.2 5.4l1.8 1.3l3.7 -0.7l1.8 -0.9l1.0 -1.4l0.5 -3.7l1.3 -1.8l2.7 -2.0l1.9 -0.4l1.8 0.9l1.8 2.4l3.7 1.4l1.7 1.4l2.0 3.0l1.8 0.0l3.7 -1.7l1.8 -0.4l1.9 1.1l1.8 2.5l1.8 1.0l0.7 -1.9l-0.3 -3.6l1.4 -1.9l7.4 -1.1l1.8 -2.4l1.9 -0.2l1.8 1.9l-1.2 1.8l-2.1 1.9l0.2 1.8l1.9 1.8l4.9 -0.2l1.8 0.6l1.7 1.5l1.2 5.5l2.6 2.0l3.7 -0.2l2.7 -1.8l1.4 -1.9l1.4 -0.6l7.3 0.7l1.8 -0.5l1.9 -4.1l1.8 -0.1l3.5 1.0l6.9 3.6l2.5 1.9l1.8 -0.1l5.5 -2.9l3.7 -1.3l3.4 0.6l2.1 1.7l1.8 0.5l2.4 -0.4l2.3 -3.6l0.8 -0.5l1.8 -0.1l3.7 1.0l1.8 -0.4l-0.0 -5.5l1.1 -1.9l6.3 -1.1l0.6 -0.7l1.2 -4.4l1.8 -1.5l3.3 0.4l2.2 2.8l1.9 -1.8l1.8 -0.6l1.8 0.3l1.6 1.1l0.8 1.9l1.3 0.6l1.8 -0.7l1.1 -1.8l-1.7 -5.5l0.1 -1.8l0.5 -0.8l1.9 -0.7l1.8 0.0l1.8 0.8l1.9 2.6l1.8 0.9l1.8 -0.5l1.9 -2.9l1.8 -1.5l3.7 -0.1l5.5 1.7l1.8 -0.6l2.8 -2.6l2.7 -0.4l1.1 0.4l0.4 1.8l-1.7 1.9l-0.9 1.8l0.3 1.9l0.8 1.5l1.9 1.4l1.8 -0.7l1.7 -4.1l2.0 -1.0l1.8 0.1l2.5 0.9l4.8 3.9l5.5 -1.1l3.7 0.4l2.8 -1.3l2.7 -0.7l2.8 0.7l0.5 1.8l-0.4 1.8l-1.1 1.6l-3.6 0.9l-1.6 1.2l0.4 5.5l-0.5 1.8l-3.0 1.9l-0.6 1.8l0.6 1.8l1.7 1.9l8.5 2.6l1.6 1.1l2.0 3.7l1.9 0.4l5.5 -0.3l3.6 0.7l1.9 1.0l3.6 3.6l1.9 0.6l3.1 -0.6l7.9 -3.5l1.8 -0.2l5.5 0.5l5.5 -1.3l3.1 0.9l4.3 3.3l3.6 1.5l5.5 -0.9l5.5 0.6l3.7 -1.9l1.5 1.0l-1.7 3.7ZM200.7 156.6l0.0 -2.0l1.8 -0.4l0.7 0.4l0.1 1.8l-0.8 0.5l-1.8 -0.3ZM468.5 158.9l-0.4 -0.7l0.4 -0.9l1.8 -0.9l-0.0 2.1l-1.8 0.4ZM521.6 135.5l-0.7 -1.1l0.7 -1.8l2.0 -0.0l0.8 1.8l-0.9 1.1l-1.9 -0.0ZM595.0 157.1l-0.9 -0.6l-0.3 -1.9l1.2 -4.1l1.8 -1.1l3.7 -1.1l1.3 -1.0l0.6 -3.7l1.8 -1.5l1.8 0.0l1.8 0.7l0.8 0.8l0.1 1.8l-0.9 1.1l-5.5 2.6l-1.6 3.7l-1.5 1.8l-2.4 1.8l-1.8 0.7ZM613.4 151.0l0.0 -0.3l1.4 0.2l-1.4 0.1ZM705.0 180.3l0.0 0.0l0.2 0.0l-0.1 -0.0l-0.1 0.0ZM257.3 173.0l2.0 0.5l0.6 -0.5l0.2 -1.9l-0.7 -0.8l-1.9 -0.7l-1.0 1.5l0.8 1.9ZM397.3 165.6l2.4 0.0l1.3 -1.8l-2.2 -1.5l-1.9 0.7l-0.6 0.8l1.0 1.8ZM531.7 165.6l1.0 0.6l1.8 0.1l1.8 -0.7l3.7 -2.5l3.7 -0.6l1.8 0.4l1.6 2.7l2.1 1.1l1.8 -0.1l1.6 -1.0l-0.6 -1.8l-5.0 -1.9l-0.1 -1.8l1.2 -5.5l-0.6 -1.8l-2.0 -0.6l-1.8 0.2l-1.9 1.2l-3.7 5.0l-3.8 1.5l-1.7 1.6l-0.8 2.1l-0.1 1.8ZM360.4 163.8l1.6 0.9l1.9 -0.2l1.1 -0.7l-0.1 -1.9l-2.8 0.2l-1.7 1.7ZM385.8 161.9l2.0 0.5l0.9 -0.5l0.9 -1.8l-5.5 -4.4l-3.1 0.7l3.1 2.8l1.7 2.7ZM556.1 161.9l2.3 0.7l1.8 -0.2l0.8 -0.5l0.3 -1.8l-3.0 -0.8l-1.8 0.7l-0.4 1.9ZM527.9 156.4l1.1 0.4l1.2 -0.4l0.9 -1.8l-0.3 -0.8l-1.8 0.0l-0.9 0.8l-0.2 1.8ZM565.6 156.4l1.9 0.0l1.6 -1.8l0.2 -2.5l-1.8 -0.8l-1.8 1.5l-0.5 1.8l0.4 1.8ZM517.8 152.8l2.0 0.9l1.8 -0.9l1.2 -1.9l-0.0 -1.8l-3.0 -0.1l-1.8 1.3l-0.2 2.5Z"/>
<path fill="#ff6700" fill-rule="evenodd" d="M105.2 167.5l2.0 0.8l1.8 -0.0l1.2 -0.8l2.4 -3.3l1.9 -0.1l5.5 1.4l5.5 -0.9l1.8 0.5l1.6 2.4l2.1 1.3l1.8 0.3l1.8 -0.6l0.9 -1.0l0.3 -1.9l-0.2 -1.8l-1.0 -1.3l-1.8 -0.7l-2.3 -1.7l-0.3 -3.7l0.8 -2.3l-0.0 -1.6l-1.9 -0.7l-3.6 1.8l-1.9 0.1l-3.2 -0.9l-4.1 -2.2l-1.9 0.3l-0.9 5.5l-2.7 4.9l-1.8 0.8l-3.7 0.3l-1.4 1.4l0.2 1.8l1.1 1.9ZM663.9 167.5l0.8 1.0l1.8 0.3l5.5 -2.5l5.5 -0.9l1.6 -1.6l0.3 -1.9l-0.5 -1.8l-1.4 -1.0l-1.8 0.1l-7.1 2.7l-3.9 3.5l-0.8 2.1ZM97.7 163.8l0.2 0.1l0.4 -0.1l-0.4 -0.4l-0.2 0.4ZM90.6 160.1l1.9 0.0l0.8 -1.8l-0.9 -1.4l-1.8 -0.5l-2.2 1.9l2.2 1.8ZM137.4 160.1l0.9 0.7l1.8 -0.2l0.6 -0.5l0.2 -1.8l-0.8 -1.5l-1.8 -0.3l-1.1 1.8l0.2 1.8ZM652.4 160.1l1.3 0.8l1.8 -0.5l0.0 -2.6l-1.8 -0.2l-1.3 0.7l0.0 1.8ZM688.9 160.1l1.5 0.5l1.8 -0.3l1.3 -2.0l-0.3 -1.9l-3.1 -3.6l-0.9 -1.9l0.2 -1.8l2.8 -0.5l1.9 0.3l1.8 2.2l1.8 1.3l1.9 0.2l3.6 -0.8l3.7 -2.4l1.8 0.1l3.7 1.9l7.3 0.4l1.9 -0.6l1.8 -1.8l0.0 -51.7l-660.3 0.0l0.0 51.7l5.5 -3.3l3.8 -0.7l1.0 -1.8l0.4 -1.8l1.5 -1.9l6.1 -1.2l5.5 -3.6l7.4 -1.6l3.6 0.4l3.7 1.7l1.9 0.3l5.5 -1.1l3.6 1.9l1.9 0.5l1.8 -0.5l1.8 -2.4l1.9 -0.9l7.3 0.4l5.5 0.8l5.5 -1.3l3.7 -2.4l1.8 -0.6l1.8 0.3l5.5 2.5l3.7 -0.0l3.7 -1.1l4.2 -3.1l3.1 -1.0l1.8 0.0l0.6 1.0l-0.7 1.8l-3.0 3.7l0.4 1.8l0.9 0.4l1.8 0.0l3.7 -2.5l5.5 -2.0l3.7 -2.1l1.8 -0.1l6.6 0.8l0.8 0.7l1.8 3.3l1.8 0.4l5.5 -0.7l3.7 1.1l1.8 -0.0l2.2 -1.1l1.9 -3.7l1.4 -1.0l7.4 -2.3l3.6 -0.7l3.0 0.4l1.9 1.8l1.0 1.8l1.5 0.4l3.6 -1.4l5.5 -0.0l1.9 0.8l1.8 2.5l1.8 0.9l1.9 0.1l1.8 -0.7l3.7 -2.6l1.8 -0.3l1.6 0.3l-0.4 1.9l-3.7 3.6l-1.0 1.9l1.0 1.8l4.4 2.1l0.9 1.6l0.9 4.5l1.8 0.6l7.4 -0.1l5.5 2.2l1.8 0.3l1.8 -0.3l1.9 -1.9l1.8 -0.4l3.7 1.8l1.8 -0.2l3.7 -2.6l5.5 -1.4l0.6 -0.7l0.7 -3.6l0.5 -0.8l1.8 -0.8l3.7 0.3l5.5 3.0l1.8 -0.3l1.7 -1.4l0.0 -1.9l-1.5 -3.7l-0.2 -2.0l1.9 -0.5l7.3 5.9l1.8 0.6l0.7 -0.3l0.5 -1.8l-1.9 -5.5l-0.2 -1.9l0.9 -0.3l7.4 2.5l1.0 -0.3l0.2 -1.9l-0.6 -3.6l0.6 -1.9l6.1 -2.8l1.9 -0.1l0.7 1.1l-0.7 5.6l3.6 -1.4l3.7 -0.2l1.8 0.4l3.7 3.5l1.1 -0.6l-0.4 -1.8l-2.2 -3.7l-0.1 -1.8l1.6 -0.9l7.3 0.3l5.5 -2.4l0.8 4.8l1.1 1.4l2.9 -1.4l0.7 -1.1l0.1 -4.4l1.8 -0.4l3.6 0.2l0.9 0.2l0.6 1.9l-0.9 1.8l-1.7 1.8l-0.3 1.9l1.4 1.8l1.9 0.2l1.8 -0.9l5.5 -5.0l7.8 -1.6l8.8 -5.5l3.6 -0.4l1.8 0.4l1.9 1.3l1.8 2.6l1.8 1.5l1.9 0.2l1.8 -3.8l1.8 -1.0l1.9 0.5l3.6 3.7l1.9 0.6l1.8 -0.2l1.8 -1.0l1.9 -1.8l1.8 -0.6l1.3 1.6l-1.3 3.7l0.1 1.8l1.7 1.1l5.5 1.0l6.3 3.4l4.7 1.2l1.9 -0.3l0.3 -0.9l-0.3 -2.2l-1.9 -1.9l-3.5 -1.4l1.7 -1.0l3.7 0.3l3.6 1.5l5.5 1.4l5.5 6.3l1.9 0.3l3.7 -1.9l1.4 -1.4l0.5 -1.8l-0.8 -5.5l1.8 -1.8l4.4 -1.0l1.8 0.2l5.5 1.5l1.9 1.1l1.8 2.2l1.8 0.5l3.7 -0.3l0.9 -0.6l1.7 -3.6l1.1 -0.9l3.6 -1.0l3.7 -2.3l1.8 0.3l3.7 1.5l3.7 -0.4l0.8 -0.9l1.0 -3.9l1.8 -0.0l3.7 3.1l3.7 0.3l1.8 -0.7l5.5 -4.9l2.6 -3.1l1.1 -0.8l3.6 -0.7l1.9 0.3l1.3 1.2l-0.0 3.7l-1.3 1.4l-5.1 2.3l-0.6 1.8l3.8 0.2l3.7 2.4l1.9 -0.0l2.1 -0.8l0.5 -1.8l-0.6 -1.8l0.1 -1.9l3.4 -0.9l1.8 0.3l5.5 3.2l5.5 1.2l1.7 1.7l0.6 1.9l1.4 1.3l7.8 0.5l1.8 1.8l1.5 3.7l1.7 1.7l1.8 0.6l3.7 -0.1l5.5 -1.4l5.5 2.1l5.8 0.8l0.8 -1.9l-1.3 -3.6l0.2 -1.4l1.8 -0.5l8.9 3.7l2.5 1.8l1.5 0.6l1.8 0.1l2.3 -0.7l1.4 -1.3l1.8 -2.8l1.9 -0.1l12.8 7.8l1.8 0.5l1.1 -0.4l0.2 -1.8l-1.1 -1.9l-3.8 -3.0l-1.2 -2.5l0.8 -1.8l2.2 0.4l1.9 1.4l2.3 3.7l3.6 3.7l1.0 1.8l0.3 3.7l1.9 1.8l7.3 1.8l3.7 1.3l3.7 5.0l1.8 0.8l5.5 0.4l8.2 1.7l1.0 0.8l1.8 4.1l0.7 0.6l4.2 1.9l2.8 1.8ZM257.5 129.0l-1.8 -1.7l-0.0 -3.9l1.8 -0.8l1.9 0.3l5.3 2.3l0.6 1.9l-1.5 1.8l-2.6 0.4l-3.7 -0.3ZM270.4 119.9l-0.4 -0.2l0.4 -0.0l-0.0 0.2ZM272.2 135.2l-1.2 -0.8l-0.2 -1.8l1.4 -0.7l1.8 -0.1l1.0 0.8l-0.7 1.8l-2.1 0.8ZM277.7 130.8l1.3 -1.8l0.5 -0.1l0.5 1.8l-2.3 0.1ZM286.9 141.8l-1.8 -0.8l-0.8 -1.1l-1.1 -5.6l1.8 -0.6l7.7 2.5l0.7 1.9l-0.1 1.8l-2.8 1.4l-3.6 0.5ZM462.9 121.9l-0.8 -2.2l0.8 -2.2l1.9 -0.4l2.3 0.8l0.9 1.8l-0.2 1.9l-3.0 0.8l-1.9 -0.5ZM490.5 119.8l-1.8 -1.0l-0.5 -0.9l0.4 -1.8l1.9 -1.0l1.8 0.2l0.8 0.8l0.4 1.8l-1.2 1.7l-1.8 0.2ZM545.5 103.4l-0.3 -0.2l0.3 -0.7l0.6 0.7l-0.6 0.2ZM683.0 148.5l-1.3 -1.3l0.2 -1.8l1.1 -0.8l1.9 0.1l1.5 0.7l1.3 1.9l-1.0 1.5l-3.7 -0.3ZM279.5 120.6l-1.1 -0.8l1.1 -0.3l0.3 0.2l-0.3 0.9ZM657.3 154.6l2.0 0.7l2.0 -0.7l-1.0 -1.8l-1.1 -0.8l-1.8 0.4l-0.1 2.2ZM556.9 127.1l1.4 0.2l0.6 -0.2l-0.6 -0.8l-1.4 0.8Z"/>
<path fill="#ff3a00" fill-rule="evenodd" d="M701.0 136.2l4.0 0.4l3.7 -0.8l1.9 0.2l3.6 1.8l1.9 0.2l1.8 -0.3l3.7 -2.3l1.8 -0.6l0.0 -37.1l-99.9 0.0l-0.3 1.8l0.4 1.9l1.9 1.8l6.2 2.7l1.8 1.8l1.9 2.9l1.8 1.3l3.7 0.5l1.7 -1.9l-0.3 -1.8l-1.6 -1.8l-4.4 -1.9l-1.7 -1.8l-0.3 -1.8l1.1 -1.4l3.6 -0.2l1.9 0.3l1.8 1.3l0.6 3.6l1.4 3.7l-0.1 1.8l0.6 1.9l3.0 0.1l1.8 -1.5l-0.6 -2.3l-2.5 -3.7l0.2 -1.8l2.5 -1.8l2.3 -0.2l3.5 3.8l3.8 1.7l1.8 -0.1l1.9 -1.9l1.8 -1.0l1.8 0.1l1.3 1.2l2.4 5.0l1.8 2.4l3.7 2.2l1.8 0.0l0.5 -2.2l-4.1 -9.2l0.6 -1.8l3.0 -1.4l1.4 1.4l0.1 3.6l1.1 3.7l1.4 1.8l3.4 2.5l0.9 1.2l0.6 1.9l-2.3 5.5l0.2 7.3l0.6 0.7l5.5 1.3l5.5 3.5l5.1 1.8ZM692.2 110.6l-1.8 -0.4l-1.8 -1.2l-1.8 -2.1l-0.9 -1.9l0.8 -1.8l3.7 -0.7l1.8 0.6l3.8 3.8l-0.1 1.8l-1.8 1.6l-1.9 0.3ZM63.1 134.4l0.0 0.4l3.7 0.6l3.6 -0.2l3.7 -1.6l4.6 -2.9l11.9 -0.9l2.7 -0.9l4.6 -2.9l1.9 -0.4l3.7 0.5l1.8 -0.2l2.4 -2.5l1.3 -0.5l7.3 1.1l1.8 -1.1l5.4 -6.8l2.0 -0.9l1.8 -0.2l1.8 0.5l1.9 2.9l1.8 0.8l3.7 -0.4l1.8 -0.9l2.1 -3.7l3.0 -1.8l2.2 -0.5l5.5 0.5l1.9 -1.2l5.5 3.1l1.8 0.7l1.8 -0.4l2.0 -4.1l1.7 -1.4l3.7 0.7l5.5 2.8l5.5 -1.1l1.8 0.1l1.9 2.0l1.8 0.8l1.8 -2.0l1.9 -0.8l5.5 0.5l1.8 -1.0l1.8 -2.1l1.9 -0.8l1.8 1.1l1.8 2.1l7.4 2.8l1.7 -1.8l-1.1 -1.9l0.1 -1.8l1.1 -0.9l1.1 0.9l0.1 1.8l0.6 0.7l1.9 0.5l3.6 -0.9l6.3 -3.9l4.7 0.3l5.5 -0.6l3.2 3.9l2.3 0.6l1.9 -0.6l3.7 -4.9l1.8 -1.1l1.8 -0.5l5.5 0.1l3.7 -0.7l1.6 1.6l0.8 1.9l3.1 1.1l5.5 -0.7l1.8 -0.8l1.9 -1.7l1.8 -0.0l0.3 2.1l-1.4 1.8l-0.0 1.8l1.1 0.9l1.8 -0.3l3.7 -1.9l3.7 -0.2l1.8 0.5l3.7 3.6l1.8 -0.4l0.4 -2.2l0.9 -1.8l0.5 -0.2l3.7 -0.3l11.0 1.1l0.9 -0.6l-0.2 -3.7l1.1 -1.2l5.5 2.2l3.7 0.7l3.7 3.0l1.8 0.7l1.9 -0.1l3.6 -1.9l2.1 -3.4l1.6 -1.2l1.8 0.1l5.5 2.3l3.7 0.0l3.0 -1.2l2.5 -3.1l1.8 -0.8l1.9 -0.0l0.6 0.3l0.8 1.8l-2.1 3.7l-0.1 1.8l0.8 0.9l1.8 -0.1l9.2 -4.1l3.6 -4.0l5.5 -1.9l1.4 -1.8l-315.0 0.0l0.0 36.7ZM677.7 125.2l1.9 0.0l0.9 -1.8l-1.1 -2.9l-1.9 -0.4l-0.8 1.5l-0.3 1.8l1.3 1.8ZM653.6 121.6l1.9 0.0l2.1 -1.9l0.6 -1.8l-0.8 -1.2l-2.3 -0.6l-1.3 1.8l-0.2 3.7ZM400.5 105.0l1.9 1.1l3.7 -0.1l1.9 -1.0l1.8 -1.9l5.5 -1.4l1.1 -4.0l-35.9 0.0l3.6 2.6l3.6 0.8l1.9 -0.1l1.8 -1.0l1.9 -0.3l1.8 0.5l3.7 2.1l1.7 2.7ZM437.4 103.2l1.7 1.5l1.8 -0.6l0.6 -0.9l-0.6 -1.1l-1.8 -0.8l-0.5 0.1l-1.2 1.8ZM431.7 99.5l3.8 0.4l0.6 -2.2l-9.3 0.0l1.3 0.1l3.6 1.7ZM444.7 99.5l1.7 0.5l1.9 -0.2l2.9 -2.1l-7.2 0.0l0.7 1.8ZM458.6 97.7l2.5 0.5l1.6 -0.5l-1.6 0.0l-2.5 0.0ZM581.0 97.7l1.2 1.1l1.8 0.0l1.3 -1.1l-4.3 0.0ZM610.5 97.7l1.0 1.2l1.9 0.3l3.6 -0.6l1.8 -0.9l-8.3 0.0Z"/>
<path fill="#ff0e00" fill-rule="evenodd" d="M63.1 128.9l0.0 1.0l3.7 -0.3l1.9 -0.7l3.6 -3.4l1.8 -0.4l5.5 0.2l5.5 -0.7l3.7 0.4l1.8 -1.1l1.8 -3.2l3.7 0.1l2.6 -1.1l1.1 -1.8l-0.5 -1.8l-3.2 -2.3l-5.5 -1.2l-5.5 -2.8l-5.5 0.9l-1.8 -0.2l-3.7 -2.0l-1.8 -0.3l-1.9 0.4l-3.6 1.9l-3.7 0.1l0.0 18.3ZM706.7 128.9l2.0 0.8l14.7 0.2l0.0 -19.3l-3.7 -1.2l-5.5 0.7l-1.8 1.0l-1.9 3.1l-1.8 1.2l-7.8 2.5l-1.3 0.8l-0.6 1.0l0.5 1.9l1.9 2.1l2.6 1.5l2.7 3.7ZM121.5 97.7l2.1 1.1l1.9 -0.1l0.8 -1.0l-4.8 0.0Z"/>
<line x1="393.5" y1="99.72" x2="393.5" y2="427.18" stroke="#fff" stroke-width="1" opacity="0.25"/>
</g>
<g clip-path="url(#mc)">
<path fill="none" stroke="#000" stroke-width="1" stroke-linejoin="round" d="M85.1 142.5 87.9 141.4 93.4 140.7 95.2 140.1 91.5 138.8 87.9 137.5 90.6 136.4 94.3 134.8 99.8 133.5 106.2 132.0 110.8 132.8 118.1 133.5 125.5 134.0 134.6 135.0 140.1 135.9 145.6 135.3 149.3 135.3 154.8 134.4 159.4 134.0 164.0 135.3 171.3 135.3 178.7 136.2 182.3 137.2 191.5 138.1 197.0 137.2 202.5 138.1 209.8 138.4 213.5 137.2 217.2 138.1 219.9 135.3 219.9 131.1 224.5 133.5 227.3 136.2 231.8 137.2 235.5 139.0 239.2 135.3 243.8 136.2 242.8 140.8 235.5 144.5 232.8 145.4 227.3 147.3 220.8 150.9 219.9 154.6 223.6 158.3 230.9 159.2 237.3 161.4 242.3 161.9 242.3 165.6 245.6 168.4 248.4 167.8 248.4 162.9 252.0 160.1 252.4 156.4 250.2 152.8 250.6 148.5 257.5 148.5 263.0 150.0 265.8 154.6 268.5 155.5 271.3 155.0 274.9 152.2 277.7 156.4 280.4 159.2 283.2 161.0 287.8 162.9 290.5 166.5 287.8 168.6 283.2 170.8 276.8 170.6 271.3 171.1 266.7 173.9 263.9 176.3 268.5 173.7 274.0 172.6 275.3 174.1 273.1 174.8 274.0 176.6 274.9 177.9 280.4 179.0 283.2 178.1 282.3 179.7 276.8 181.0 272.6 182.9 271.6 181.2 274.0 179.9 270.4 180.3 266.7 182.1 264.3 183.1 263.4 184.9 264.9 186.2 262.1 186.9 258.4 188.0 257.5 188.6 257.2 190.4 255.7 191.7 254.8 193.5 253.9 195.2 254.8 198.1 252.9 199.2 250.2 200.9 248.0 202.0 245.6 203.6 244.1 206.0 243.8 207.8 245.4 211.0 246.5 214.3 245.8 216.6 244.3 216.5 243.2 214.3 241.6 211.5 241.4 209.3 239.2 207.8 236.4 208.4 234.6 207.1 230.9 207.3 229.1 207.5 229.6 209.5 227.3 209.5 224.5 208.6 220.8 208.6 218.1 210.0 215.0 212.2 214.4 215.2 214.1 217.9 213.9 221.6 215.0 224.7 216.8 227.7 219.0 228.9 220.8 229.5 224.5 228.8 226.3 228.4 227.3 226.6 227.6 224.4 230.9 223.4 233.7 223.4 232.8 225.8 232.6 228.9 231.5 230.8 231.3 233.5 232.8 233.9 236.4 233.7 239.2 234.4 240.6 235.4 240.1 240.0 239.5 242.7 241.9 245.5 243.8 246.7 246.5 245.8 249.3 245.6 251.5 247.1 253.5 245.8 254.8 243.6 257.0 242.7 259.4 242.2 261.2 241.1 262.5 240.3 261.6 242.2 263.0 241.8 264.5 241.1 265.2 242.0 267.8 243.1 271.6 243.4 274.9 244.2 277.7 243.3 279.5 243.6 280.4 245.5 281.7 247.3 283.6 247.8 286.0 250.2 288.3 251.9 291.5 252.1 294.2 252.4 297.0 253.7 298.8 255.2 299.7 257.4 301.5 259.6 300.6 262.3 302.5 263.5 304.3 264.7 306.1 264.2 310.7 265.7 312.5 267.5 316.2 268.0 319.9 268.2 322.6 269.7 325.4 272.1 328.1 272.6 329.2 275.7 328.7 279.4 326.3 282.2 323.9 285.8 321.9 287.7 321.7 292.3 321.2 295.6 319.9 299.2 318.4 302.4 316.6 304.8 314.0 305.1 311.3 305.9 308.0 307.0 305.2 309.7 304.3 312.5 303.7 315.2 301.5 318.0 299.7 320.7 297.0 323.5 295.1 325.3 292.6 327.0 289.6 326.8 286.5 325.9 288.3 328.6 289.3 329.9 287.8 332.8 285.0 333.9 280.4 334.5 279.0 337.2 277.7 338.5 274.0 338.2 275.9 340.5 274.0 341.8 273.1 345.5 269.4 347.9 272.6 350.6 268.9 353.8 267.1 356.5 267.8 358.9 265.8 359.3 267.6 360.2 269.4 362.0 273.7 363.3 271.3 363.9 267.6 363.9 264.9 363.9 261.2 362.9 257.5 360.2 255.7 357.4 254.8 352.8 256.6 349.2 254.8 348.3 257.5 344.6 258.4 341.8 257.5 339.1 258.4 335.4 258.4 330.8 260.3 328.1 261.6 324.4 262.1 319.8 262.5 316.1 263.4 312.5 263.9 308.8 264.1 305.1 264.5 300.5 264.3 296.5 262.1 294.7 259.4 293.0 255.7 291.0 253.3 288.2 251.7 284.9 249.3 280.3 247.4 276.7 244.7 273.9 244.1 271.2 246.0 269.0 245.0 266.9 245.6 264.4 246.5 262.0 248.4 260.1 250.2 258.3 251.3 255.6 251.3 251.0 250.2 249.1 249.3 247.3 247.4 246.6 246.0 248.2 245.6 249.5 243.8 248.9 241.4 247.8 239.7 246.4 237.0 244.9 235.9 242.7 234.0 240.5 232.6 239.0 230.0 238.1 226.3 237.4 223.6 236.3 220.8 233.5 218.1 233.9 215.3 233.9 211.7 232.4 208.0 231.1 204.3 229.5 201.6 227.7 199.7 225.3 200.3 222.9 198.8 220.7 196.1 217.9 193.3 215.5 190.6 212.4 187.8 210.0 186.0 206.5 183.2 205.1 183.6 207.8 186.0 210.6 187.8 214.3 190.6 218.5 192.4 220.7 191.1 219.9 188.2 217.9 187.5 215.2 184.2 212.4 183.2 210.6 181.4 207.8 179.6 205.1 178.3 203.1 176.5 200.9 173.5 199.8 172.0 199.4 169.8 195.9 168.6 193.7 166.7 192.2 165.4 188.6 165.4 185.8 165.1 183.1 166.0 178.5 164.7 174.2 167.6 173.9 166.7 172.0 163.1 170.2 159.4 169.3 158.5 167.5 155.7 165.6 153.9 162.9 152.1 161.0 149.3 159.2 146.6 156.4 142.9 155.5 139.2 154.2 134.6 152.8 130.0 152.8 125.5 151.5 120.9 152.2 117.2 154.1 115.4 151.8 113.5 153.7 110.8 155.5 107.1 157.7 102.5 160.1 97.9 161.0 93.4 162.3 91.0 163.0 95.2 160.7 99.8 159.2 103.5 155.5 98.9 155.2 96.1 153.1 91.5 151.8 90.1 150.0 90.6 148.2 91.5 146.9 97.0 144.5 93.4 144.3 87.9 144.3 85.1 142.5 M259.4 118.8 272.2 115.1 283.2 112.4 310.7 110.9 334.6 109.6 352.9 111.5 356.6 113.3 363.9 115.1 358.4 117.0 357.5 120.6 359.3 122.5 353.8 126.2 352.9 129.8 348.3 133.5 352.0 133.9 345.6 137.2 334.6 137.5 328.1 141.8 320.8 143.0 315.3 148.2 313.5 152.8 310.7 152.2 305.2 150.0 300.6 144.5 297.9 140.8 295.1 137.2 298.8 133.5 293.3 131.7 291.5 128.0 286.0 124.3 277.7 123.0 268.5 122.5 262.1 120.6 259.4 118.8 M383.0 196.8 385.0 195.5 389.6 195.4 392.3 193.5 393.6 191.7 392.7 190.4 394.7 188.0 399.1 185.8 398.8 183.4 401.5 183.2 404.3 183.8 407.0 182.5 409.4 181.4 412.5 184.0 413.4 185.1 416.2 186.5 418.9 188.0 422.0 189.5 422.6 191.9 422.0 193.1 423.5 192.2 424.6 191.3 423.7 188.6 425.3 188.9 427.2 189.3 426.3 188.4 422.6 186.7 419.5 184.9 418.2 182.9 415.8 181.2 415.8 179.6 418.4 179.0 418.6 180.7 420.8 182.1 423.5 183.4 427.2 185.1 429.0 186.2 428.6 188.7 430.3 190.4 432.0 192.6 433.1 195.4 434.5 196.1 435.4 194.1 437.3 192.8 436.9 191.3 434.7 188.6 437.3 188.0 440.9 188.0 441.7 189.3 441.3 190.6 442.8 192.6 443.3 195.0 445.2 195.5 449.2 196.3 452.9 196.6 455.6 196.3 459.3 195.4 458.9 197.2 459.1 199.2 457.4 202.3 456.3 205.1 456.0 205.4 452.5 205.6 448.3 205.3 444.6 206.0 439.1 204.9 435.4 203.1 431.8 202.7 429.9 204.2 429.6 206.9 426.3 206.4 421.7 205.1 421.1 203.6 417.1 202.5 414.3 202.1 412.0 200.5 413.4 198.3 412.5 195.4 410.7 194.4 407.0 195.0 402.4 195.4 396.9 195.7 391.4 197.4 389.2 198.5 383.3 197.0 381.9 197.7 380.6 200.5 377.7 201.8 375.5 205.1 375.3 208.2 372.2 211.1 369.4 212.4 366.7 215.2 363.9 219.2 362.1 224.4 363.4 227.1 363.0 231.7 361.2 235.9 362.4 238.1 362.6 240.1 364.8 241.8 366.7 243.6 369.0 245.8 371.2 249.1 374.0 251.2 378.6 254.6 383.2 253.7 388.7 254.1 393.2 252.6 396.0 251.5 400.6 251.3 403.3 254.1 406.1 254.8 408.8 254.6 410.7 255.9 411.2 259.2 410.7 261.1 410.3 263.8 409.8 265.7 413.4 269.3 415.3 272.1 417.1 275.7 418.0 280.3 418.6 284.0 416.2 287.7 414.9 293.2 414.9 295.0 417.1 300.5 419.8 304.2 420.4 309.7 421.3 312.5 423.5 315.4 425.3 318.9 426.6 321.6 427.0 325.3 429.9 326.8 434.5 325.3 440.0 325.3 442.8 324.4 445.5 322.0 448.3 319.8 450.1 317.0 452.9 315.2 453.4 310.6 453.8 309.3 458.4 307.0 458.4 303.3 457.1 299.6 460.2 296.9 465.7 293.2 467.9 289.5 467.5 283.1 465.7 277.6 465.1 274.8 464.8 272.1 466.6 268.4 469.4 266.2 473.0 262.0 477.6 258.3 482.2 252.8 485.9 245.5 487.2 241.2 483.1 242.2 475.8 243.8 472.7 241.8 471.6 239.0 466.6 234.4 463.9 229.9 461.7 224.4 458.7 219.8 457.4 216.1 454.7 212.4 452.9 208.0 453.8 210.0 455.6 211.9 456.5 209.7 457.4 211.5 460.2 215.2 463.9 220.7 465.7 224.4 468.5 228.9 471.2 233.5 472.7 239.0 475.8 239.4 482.2 237.2 488.6 234.4 495.0 230.8 497.8 228.4 500.5 225.3 502.9 221.6 500.5 219.4 497.8 218.8 496.5 214.8 494.1 217.4 488.6 218.8 487.7 216.1 486.8 215.2 485.0 214.3 482.2 210.6 481.3 207.8 485.0 207.5 487.7 211.7 492.3 213.9 496.9 213.3 498.7 215.5 506.1 216.6 511.6 216.5 515.4 216.1 517.1 218.8 518.9 220.1 520.7 221.6 522.6 224.4 526.4 223.4 526.8 228.0 528.1 233.5 530.4 239.4 533.0 244.9 535.4 248.0 537.2 246.0 539.6 244.0 540.4 239.0 540.5 233.9 544.6 231.7 548.2 228.0 552.8 224.0 555.6 222.5 559.2 222.5 561.6 221.6 562.5 224.4 563.8 227.1 566.2 229.9 566.6 233.2 568.4 233.9 572.1 232.6 572.6 236.3 573.9 240.9 573.9 245.5 573.5 248.2 576.7 251.0 577.6 255.6 579.4 258.3 583.1 260.5 584.4 260.1 583.1 255.6 582.2 252.8 580.3 251.3 577.6 249.1 576.7 245.5 575.2 243.6 576.7 239.0 578.5 239.6 581.3 240.9 583.1 243.6 585.5 246.7 588.6 245.5 590.4 243.6 593.2 241.2 593.7 238.1 592.6 234.4 589.5 231.7 587.3 228.4 588.6 225.3 591.3 223.4 594.6 223.4 595.9 225.6 596.8 223.4 601.4 222.2 606.9 220.7 610.6 217.9 613.0 214.3 615.2 210.6 617.0 207.8 615.2 206.4 616.7 204.7 614.3 202.3 612.4 199.6 614.3 196.8 617.9 195.0 614.8 193.5 611.5 194.6 609.7 192.2 609.3 190.9 612.4 189.7 616.1 188.0 615.6 191.3 617.9 190.4 621.2 189.7 622.9 192.2 625.3 194.1 625.3 198.7 627.1 199.2 630.4 198.1 630.8 195.4 628.9 192.2 627.1 189.8 630.8 187.6 632.6 185.3 635.4 183.6 641.8 182.5 646.4 177.5 651.0 173.9 651.0 168.4 652.8 165.6 648.2 163.8 644.5 163.8 641.8 162.9 645.4 159.2 651.0 155.5 655.5 154.1 661.0 154.2 666.5 153.7 672.0 154.6 676.6 154.1 680.3 150.9 685.8 150.0 687.6 152.2 682.1 155.5 679.4 158.3 679.0 161.9 680.3 168.4 684.0 166.0 686.7 163.4 690.4 159.7 692.8 156.4 695.0 152.8 697.7 152.2 705.1 152.8 709.6 150.0 717.9 148.2 722.5 144.5 720.6 144.1 727.1 143.6 731.7 144.5 734.4 142.7 742.3 141.6 738.1 139.9 732.6 139.0 727.1 137.2 721.6 136.2 716.1 134.8 706.9 134.4 697.7 135.3 688.6 135.3 686.7 133.5 677.5 132.6 668.4 131.7 659.2 130.2 650.0 129.8 640.9 131.7 631.7 132.6 628.0 129.8 622.5 128.0 613.4 128.9 604.2 128.0 598.7 127.1 591.3 128.0 585.8 126.2 584.0 120.6 576.7 122.5 569.3 123.4 562.0 124.3 554.7 125.2 551.0 127.1 543.7 128.0 540.9 129.8 541.5 131.7 536.3 130.2 532.6 131.7 530.8 129.8 529.0 137.2 526.8 140.8 524.4 137.2 526.2 132.6 526.8 129.5 520.7 128.9 518.0 132.6 515.8 135.3 516.1 136.6 511.6 135.7 504.2 134.8 501.5 137.2 494.1 137.2 491.4 137.7 481.3 138.4 474.0 137.2 474.3 141.4 469.4 141.6 466.6 144.0 462.0 145.1 459.3 144.0 457.1 142.1 453.8 140.7 457.4 141.2 462.9 141.6 468.5 140.5 466.6 138.4 461.1 136.6 453.8 135.5 448.3 134.8 440.9 132.6 431.8 134.4 424.4 135.9 418.9 139.0 416.2 142.7 411.6 146.3 406.1 148.2 402.4 150.9 402.4 154.6 405.2 156.4 407.9 156.4 411.6 154.6 413.4 154.8 415.3 158.3 417.1 161.0 419.8 160.1 423.5 159.2 423.5 155.5 427.2 153.7 424.4 150.0 426.3 147.3 431.8 144.5 434.5 142.1 440.0 143.6 439.1 145.4 433.6 147.3 432.7 150.9 435.4 152.8 442.8 151.8 448.3 152.8 444.6 153.7 436.4 154.2 436.4 156.4 437.3 157.4 432.7 157.4 431.8 160.1 429.0 162.9 427.2 162.3 422.6 163.2 418.9 163.8 413.4 163.8 412.5 161.9 411.6 161.0 412.5 157.0 408.8 158.3 408.3 161.0 409.2 163.8 406.1 164.7 402.4 165.6 400.6 167.5 399.1 168.7 396.6 169.3 396.0 171.1 393.2 172.0 390.9 171.7 389.9 173.5 384.6 173.7 385.4 175.2 388.7 176.1 391.0 178.5 390.9 181.2 389.9 183.2 385.9 183.1 378.6 182.7 376.2 184.0 377.1 186.7 376.7 190.4 375.8 191.9 377.1 192.6 377.1 195.0 379.5 194.6 381.7 195.4 383.0 196.8 M-277.3 196.8 -275.3 195.5 -270.7 195.4 -268.0 193.5 -266.7 191.7 -267.6 190.4 -265.6 188.0 -261.2 185.8 -261.5 183.4 -258.8 183.2 -256.0 183.8 -253.3 182.5 -250.9 181.4 -247.8 184.0 -246.9 185.1 -244.1 186.5 -241.4 188.0 -238.3 189.5 -237.7 191.9 -238.3 193.1 -236.8 192.2 -235.7 191.3 -236.6 188.6 -235.0 188.9 -233.1 189.3 -234.0 188.4 -237.7 186.7 -240.8 184.9 -242.1 182.9 -244.5 181.2 -244.5 179.6 -241.9 179.0 -241.7 180.7 -239.5 182.1 -236.8 183.4 -233.1 185.1 -231.3 186.2 -231.7 188.7 -230.0 190.4 -228.3 192.6 -227.2 195.4 -225.8 196.1 -224.9 194.1 -223.0 192.8 -223.4 191.3 -225.6 188.6 -223.0 188.0 -219.4 188.0 -218.6 189.3 -219.0 190.6 -217.5 192.6 -217.0 195.0 -215.1 195.5 -211.1 196.3 -207.4 196.6 -204.7 196.3 -201.0 195.4 -201.4 197.2 -201.2 199.2 -202.9 202.3 -204.0 205.1 -204.3 205.4 -207.8 205.6 -212.0 205.3 -215.7 206.0 -221.2 204.9 -224.9 203.1 -228.5 202.7 -230.4 204.2 -230.7 206.9 -234.0 206.4 -238.6 205.1 -239.2 203.6 -243.2 202.5 -246.0 202.1 -248.3 200.5 -246.9 198.3 -247.8 195.4 -249.6 194.4 -253.3 195.0 -257.9 195.4 -263.4 195.7 -268.9 197.4 -271.1 198.5 -277.0 197.0 -278.4 197.7 -279.7 200.5 -282.6 201.8 -284.8 205.1 -285.0 208.2 -288.1 211.1 -290.9 212.4 -293.6 215.2 -296.4 219.2 -298.2 224.4 -296.9 227.1 -297.3 231.7 -299.1 235.9 -297.9 238.1 -297.7 240.1 -295.5 241.8 -293.6 243.6 -291.3 245.8 -289.1 249.1 -286.3 251.2 -281.7 254.6 -277.1 253.7 -271.6 254.1 -267.0 252.6 -264.3 251.5 -259.7 251.3 -257.0 254.1 -254.2 254.8 -251.5 254.6 -249.6 255.9 -249.1 259.2 -249.6 261.1 -250.0 263.8 -250.5 265.7 -246.9 269.3 -245.0 272.1 -243.2 275.7 -242.3 280.3 -241.7 284.0 -244.1 287.7 -245.4 293.2 -245.4 295.0 -243.2 300.5 -240.5 304.2 -239.9 309.7 -239.0 312.5 -236.8 315.4 -235.0 318.9 -233.7 321.6 -233.3 325.3 -230.4 326.8 -225.8 325.3 -220.3 325.3 -217.5 324.4 -214.8 322.0 -212.0 319.8 -210.2 317.0 -207.4 315.2 -206.9 310.6 -206.5 309.3 -201.9 307.0 -201.9 303.3 -203.2 299.6 -200.1 296.9 -194.6 293.2 -192.4 289.5 -192.8 283.1 -194.6 277.6 -195.2 274.8 -195.5 272.1 -193.7 268.4 -190.9 266.2 -187.3 262.0 -182.7 258.3 -178.1 252.8 -174.4 245.5 -173.1 241.2 -177.2 242.2 -184.5 243.8 -187.6 241.8 -188.7 239.0 -193.7 234.4 -196.4 229.9 -198.6 224.4 -201.6 219.8 -202.9 216.1 -205.6 212.4 -207.4 208.0 -206.5 210.0 -204.7 211.9 -203.8 209.7 -202.9 211.5 -200.1 215.2 -196.4 220.7 -194.6 224.4 -191.8 228.9 -189.1 233.5 -187.6 239.0 -184.5 239.4 -178.1 237.2 -171.7 234.4 -165.3 230.8 -162.5 228.4 -159.8 225.3 -157.4 221.6 -159.8 219.4 -162.5 218.8 -163.8 214.8 -166.2 217.4 -171.7 218.8 -172.6 216.1 -173.5 215.2 -175.3 214.3 -178.1 210.6 -179.0 207.8 -175.3 207.5 -172.6 211.7 -168.0 213.9 -163.4 213.3 -161.6 215.5 -154.2 216.6 -148.7 216.5 -144.9 216.1 -143.2 218.8 -141.4 220.1 -139.6 221.6 -137.7 224.4 -133.9 223.4 -133.5 228.0 -132.2 233.5 -129.9 239.4 -127.3 244.9 -124.9 248.0 -123.1 246.0 -120.7 244.0 -119.9 239.0 -119.8 233.9 -115.7 231.7 -112.1 228.0 -107.5 224.0 -104.7 222.5 -101.1 222.5 -98.7 221.6 -97.8 224.4 -96.5 227.1 -94.1 229.9 -93.7 233.2 -91.9 233.9 -88.2 232.6 -87.7 236.3 -86.4 240.9 -86.4 245.5 -86.8 248.2 -83.6 251.0 -82.7 255.6 -80.9 258.3 -77.2 260.5 -75.9 260.1 -77.2 255.6 -78.1 252.8 -80.0 251.3 -82.7 249.1 -83.6 245.5 -85.1 243.6 -83.6 239.0 -81.8 239.6 -79.0 240.9 -77.2 243.6 -74.8 246.7 -71.7 245.5 -69.9 243.6 -67.1 241.2 -66.6 238.1 -67.7 234.4 -70.8 231.7 -73.0 228.4 -71.7 225.3 -69.0 223.4 -65.7 223.4 -64.4 225.6 -63.5 223.4 -58.9 222.2 -53.4 220.7 -49.7 217.9 -47.3 214.3 -45.1 210.6 -43.3 207.8 -45.1 206.4 -43.6 204.7 -46.0 202.3 -47.9 199.6 -46.0 196.8 -42.4 195.0 -45.5 193.5 -48.8 194.6 -50.6 192.2 -51.0 190.9 -47.9 189.7 -44.2 188.0 -44.7 191.3 -42.4 190.4 -39.1 189.7 -37.4 192.2 -35.0 194.1 -35.0 198.7 -33.2 199.2 -29.9 198.1 -29.5 195.4 -31.4 192.2 -33.2 189.8 -29.5 187.6 -27.7 185.3 -24.9 183.6 -18.5 182.5 -13.9 177.5 -9.3 173.9 -9.3 168.4 -7.5 165.6 -12.1 163.8 -15.8 163.8 -18.5 162.9 -14.9 159.2 -9.3 155.5 -4.8 154.1 0.7 154.2 6.2 153.7 11.7 154.6 16.3 154.1 20.0 150.9 25.5 150.0 27.3 152.2 21.8 155.5 19.1 158.3 18.7 161.9 20.0 168.4 23.7 166.0 26.4 163.4 30.1 159.7 32.5 156.4 34.7 152.8 37.4 152.2 44.8 152.8 49.3 150.0 57.6 148.2 62.2 144.5 60.3 144.1 66.8 143.6 71.4 144.5 74.1 142.7 82.0 141.6 77.8 139.9 72.3 139.0 66.8 137.2 61.3 136.2 55.8 134.8 46.6 134.4 37.4 135.3 28.3 135.3 26.4 133.5 17.2 132.6 8.1 131.7 -1.1 130.2 -10.3 129.8 -19.4 131.7 -28.6 132.6 -32.3 129.8 -37.8 128.0 -46.9 128.9 -56.1 128.0 -61.6 127.1 -69.0 128.0 -74.5 126.2 -76.3 120.6 -83.6 122.5 -91.0 123.4 -98.3 124.3 -105.6 125.2 -109.3 127.1 -116.6 128.0 -119.4 129.8 -118.8 131.7 -124.0 130.2 -127.7 131.7 -129.5 129.8 -131.3 137.2 -133.5 140.8 -135.9 137.2 -134.1 132.6 -133.5 129.5 -139.6 128.9 -142.3 132.6 -144.5 135.3 -144.2 136.6 -148.7 135.7 -156.1 134.8 -158.8 137.2 -166.2 137.2 -168.9 137.7 -179.0 138.4 -186.3 137.2 -186.0 141.4 -190.9 141.6 -193.7 144.0 -198.3 145.1 -201.0 144.0 -203.2 142.1 -206.5 140.7 -202.9 141.2 -197.4 141.6 -191.8 140.5 -193.7 138.4 -199.2 136.6 -206.5 135.5 -212.0 134.8 -219.4 132.6 -228.5 134.4 -235.9 135.9 -241.4 139.0 -244.1 142.7 -248.7 146.3 -254.2 148.2 -257.9 150.9 -257.9 154.6 -255.1 156.4 -252.4 156.4 -248.7 154.6 -246.9 154.8 -245.0 158.3 -243.2 161.0 -240.5 160.1 -236.8 159.2 -236.8 155.5 -233.1 153.7 -235.9 150.0 -234.0 147.3 -228.5 144.5 -225.8 142.1 -220.3 143.6 -221.2 145.4 -226.7 147.3 -227.6 150.9 -224.9 152.8 -217.5 151.8 -212.0 152.8 -215.7 153.7 -223.9 154.2 -223.9 156.4 -223.0 157.4 -227.6 157.4 -228.5 160.1 -231.3 162.9 -233.1 162.3 -237.7 163.2 -241.4 163.8 -246.9 163.8 -247.8 161.9 -248.7 161.0 -247.8 157.0 -251.5 158.3 -252.0 161.0 -251.1 163.8 -254.2 164.7 -257.9 165.6 -259.7 167.5 -261.2 168.7 -263.7 169.3 -264.3 171.1 -267.0 172.0 -269.4 171.7 -270.4 173.5 -275.7 173.7 -274.9 175.2 -271.6 176.1 -269.3 178.5 -269.4 181.2 -270.4 183.2 -274.4 183.1 -281.7 182.7 -284.1 184.0 -283.2 186.7 -283.6 190.4 -284.5 191.9 -283.2 192.6 -283.2 195.0 -280.8 194.6 -278.6 195.4 -277.3 196.8 M274.0 149.5 271.3 147.8 274.9 146.3 270.4 143.6 279.5 140.8 277.7 139.0 272.2 138.1 269.4 135.3 268.5 133.5 263.0 132.6 257.5 130.7 252.0 129.5 245.6 127.6 237.3 128.0 230.0 128.9 231.8 132.6 239.2 134.4 244.7 135.3 242.8 136.8 250.2 138.1 257.5 139.9 259.4 142.7 256.6 144.5 250.2 144.9 253.9 146.7 261.2 148.2 266.7 148.2 274.0 149.5 M175.9 131.7 177.7 133.3 186.0 134.0 187.8 135.9 180.5 136.1 185.1 137.0 195.2 136.4 201.6 137.2 207.1 135.3 208.0 133.5 202.5 132.2 208.0 130.7 199.7 128.0 191.5 129.3 185.1 128.5 178.7 129.1 175.0 130.7 175.9 131.7 M164.0 130.9 166.7 132.2 172.2 131.7 175.9 129.8 181.4 128.4 179.6 126.5 173.1 126.5 164.9 126.7 166.7 128.0 163.1 129.8 164.0 130.9 M228.2 121.6 233.7 122.7 246.5 122.8 249.3 120.6 255.7 118.8 264.9 116.1 274.0 114.2 281.4 112.0 274.0 110.9 255.7 110.4 237.3 111.5 224.5 113.7 231.8 115.1 233.7 117.0 239.2 118.8 231.8 120.1 228.2 121.6 M222.7 123.0 230.0 122.3 242.8 122.5 246.5 123.8 239.2 126.0 224.5 125.6 222.7 123.0 M219.0 130.4 225.4 130.4 228.2 128.0 220.8 127.1 219.0 130.4 M211.7 130.7 207.1 129.8 206.2 128.0 211.7 127.1 215.3 128.9 211.7 130.7 M180.5 124.7 184.2 122.8 191.5 122.5 199.7 123.6 198.8 125.2 189.7 126.0 180.5 124.7 M217.2 117.0 222.7 113.9 231.8 114.6 228.2 117.9 223.6 118.8 217.2 117.0 M208.0 124.3 213.5 122.5 214.4 125.2 208.0 124.3 M217.2 125.2 221.8 124.3 222.7 126.0 217.2 125.2 M169.5 122.5 176.8 120.8 182.3 122.5 175.0 123.8 169.5 122.5 M202.5 119.7 208.9 118.3 211.7 119.7 202.5 119.7 M210.8 136.2 217.2 135.1 218.1 136.8 212.6 137.5 210.8 136.2 M246.5 145.4 234.6 145.4 237.3 142.1 243.8 144.5 246.5 145.4 M284.5 175.5 291.5 168.4 294.2 172.0 296.4 175.7 295.1 177.4 290.5 175.7 284.5 175.5 M237.5 222.7 242.8 220.5 247.4 221.4 252.0 224.4 257.2 225.8 251.1 226.4 246.5 223.1 241.9 223.4 237.5 222.7 M256.6 228.9 259.7 226.4 264.9 226.7 267.8 228.8 263.0 229.9 256.6 229.3 256.6 228.9 M249.6 229.1 253.3 229.5 252.0 230.2 249.6 229.1 M269.8 229.1 272.9 229.3 272.2 229.9 269.8 229.9 269.8 229.1 M250.2 213.9 252.0 214.3 M249.8 217.0 250.6 218.5 M252.9 216.6 253.9 217.4 M157.7 169.7 163.6 171.1 167.1 174.1 164.0 173.1 157.7 169.7 M149.3 163.4 153.0 165.6 152.1 167.1 150.2 165.6 149.3 163.4 M107.5 225.8 109.0 227.1 107.5 228.0 M106.0 224.5 107.1 224.9 M103.1 223.4 104.0 223.8 M100.3 222.3 101.1 222.5 M87.3 164.0 88.8 164.7 M81.1 166.0 82.4 166.3 M74.1 167.1 75.9 167.3 M67.7 167.8 69.5 167.8 M280.4 357.4 286.9 357.1 286.0 358.9 282.3 358.7 280.4 357.4 M280.4 377.8 286.9 376.9 M323.6 362.4 327.6 363.5 M308.0 374.1 311.6 374.3 M224.5 177.2 231.8 173.3 237.3 175.2 238.3 177.5 233.7 177.5 224.5 177.2 M232.2 185.8 232.8 179.4 237.3 178.8 234.6 184.9 232.2 185.8 M238.3 178.8 243.8 178.8 246.5 180.9 241.9 184.0 240.1 182.1 238.3 178.8 M240.5 186.2 244.7 185.4 248.5 184.2 243.8 184.7 240.5 185.8 M246.9 183.4 253.5 183.1 252.9 181.8 247.8 182.7 246.9 183.4 M178.7 150.9 186.0 148.2 189.7 147.6 184.2 150.0 178.7 150.9 M167.6 141.8 175.0 139.9 173.1 143.0 167.6 141.8 M211.7 170.2 215.3 163.8 214.4 168.4 211.7 170.2 M444.6 186.7 446.4 187.3 451.0 187.3 454.7 185.8 457.4 185.8 462.0 187.6 466.6 187.6 469.4 186.7 469.9 184.3 466.6 183.1 462.9 181.2 461.1 179.9 458.4 180.1 455.6 181.2 452.9 179.4 454.7 178.5 451.0 177.2 449.2 177.9 447.4 180.3 445.9 182.1 444.6 184.0 444.6 186.7 M457.4 179.7 460.2 179.6 463.9 176.3 458.4 177.5 457.4 179.7 M479.5 181.2 480.4 184.0 483.1 186.7 484.0 189.5 483.1 192.2 483.1 193.9 486.8 195.5 492.3 195.2 492.1 192.2 490.5 189.5 493.2 188.0 490.5 185.8 487.7 183.1 485.9 181.2 487.7 179.4 490.5 179.7 490.5 176.6 486.8 176.6 483.1 177.5 479.5 179.4 479.5 181.2 M500.5 177.5 505.1 177.5 506.1 181.2 501.5 182.1 500.5 177.5 M584.0 168.2 587.7 166.5 592.3 163.8 594.1 161.0 593.2 161.9 589.5 165.6 584.9 167.8 584.0 168.2 M382.8 170.9 387.7 170.0 395.6 168.9 396.4 166.2 393.8 164.7 390.5 161.9 389.6 160.1 389.9 157.2 386.8 155.3 384.1 155.3 381.9 157.4 383.2 160.1 384.4 162.3 386.8 162.9 387.7 164.7 385.0 165.1 385.5 166.9 383.7 168.0 386.8 168.6 382.8 170.9 M382.2 167.1 381.9 163.8 382.6 161.6 378.6 161.6 374.9 163.4 374.9 165.1 374.0 167.8 377.7 168.2 382.2 167.1 M349.2 142.7 352.9 141.0 360.2 141.4 366.7 141.2 368.5 143.6 365.7 144.9 359.3 146.5 352.0 145.8 352.9 144.5 349.2 142.7 M413.4 118.8 422.6 116.1 442.8 115.7 433.6 119.7 423.5 122.5 413.4 118.8 M490.5 133.1 489.5 130.7 494.1 128.0 497.8 125.6 505.1 123.4 514.3 121.9 519.8 121.7 514.3 123.4 505.1 125.2 498.7 128.4 496.0 130.7 498.7 133.3 490.5 133.1 M485.0 115.7 494.1 114.6 503.3 115.1 494.1 116.4 485.0 115.7 M567.5 117.9 576.7 114.2 584.9 117.9 576.7 119.2 567.5 117.9 M644.5 125.2 653.7 123.8 664.7 124.7 650.0 127.1 644.5 125.2 M721.6 131.7 727.1 132.2 720.6 132.8 721.6 131.7 M61.3 131.7 66.8 132.2 60.3 132.8 61.3 131.7 M408.3 191.3 411.2 187.8 410.3 187.3 408.3 187.8 408.3 191.3 M409.0 186.7 410.7 184.2 409.0 184.9 409.0 186.7 M416.0 193.1 421.9 192.6 420.9 195.5 416.2 193.9 416.0 193.1 M436.4 197.9 441.5 198.1 437.3 198.7 436.4 197.9 M452.5 199.2 456.7 197.6 453.8 198.1 452.5 199.2 M633.3 200.7 636.3 197.7 641.8 197.6 644.2 194.4 647.3 193.5 650.0 190.4 650.0 187.1 652.8 187.6 653.7 190.4 651.9 193.1 651.5 196.8 649.7 198.7 647.3 199.2 644.2 199.9 640.9 200.9 637.2 200.1 633.3 200.7 M631.3 201.4 635.2 201.4 634.1 205.3 632.1 205.6 631.3 201.4 M636.3 202.3 640.3 200.1 639.6 201.8 636.3 202.3 M650.0 185.8 652.8 179.6 656.5 181.8 660.1 183.4 655.5 185.8 651.9 186.7 650.0 185.8 M653.7 178.5 653.7 173.0 654.6 163.4 655.9 167.5 655.5 173.0 656.5 177.5 653.7 178.5 M613.7 220.7 616.1 216.6 616.8 217.9 614.8 222.7 613.7 220.7 M592.4 227.7 595.9 226.0 596.8 227.1 594.1 229.5 592.4 227.7 M539.6 248.2 540.4 244.9 543.3 249.1 541.1 252.1 539.6 248.2 M614.5 228.9 617.4 228.9 617.0 231.7 616.3 233.9 616.1 236.3 617.9 236.8 621.1 239.8 618.9 238.1 616.1 237.6 614.5 236.8 613.4 235.7 613.0 233.0 614.1 232.6 614.5 228.9 M613.9 238.1 616.1 240.0 615.2 240.5 613.9 238.1 M621.1 240.0 623.8 242.3 622.5 244.5 621.6 243.1 621.1 240.0 M617.0 250.1 619.8 247.3 622.5 246.4 623.4 244.9 625.5 249.5 624.4 251.5 623.4 252.6 621.1 251.5 619.8 249.1 617.0 250.1 M617.0 241.2 618.9 243.1 617.9 245.5 616.8 243.6 617.0 241.2 M619.8 242.7 620.7 244.0 619.4 245.5 M608.2 247.7 612.4 242.2 M593.2 260.1 595.9 259.6 600.5 257.0 605.1 252.8 607.8 250.1 612.1 253.2 609.7 255.2 609.3 261.1 606.9 265.7 606.0 269.9 603.3 269.3 597.8 268.4 595.0 266.6 593.2 262.9 593.2 260.1 M568.0 252.6 572.1 253.4 577.6 259.2 583.1 263.8 587.7 268.4 587.3 273.5 584.9 273.5 580.3 270.2 577.6 264.7 573.9 259.6 568.0 252.6 M586.2 275.4 588.6 273.9 592.3 274.8 596.8 274.8 600.1 275.7 603.3 277.2 599.6 278.3 592.3 277.2 586.2 275.4 M603.3 278.0 605.5 279.1 M606.0 278.3 607.3 279.2 M607.5 278.5 611.7 278.9 M613.0 278.5 618.9 278.1 M611.5 280.3 614.8 281.6 M619.8 281.8 622.5 280.3 626.2 278.3 622.5 280.0 619.8 281.8 M613.7 273.0 612.4 269.3 612.6 262.9 614.3 261.1 622.3 260.1 618.9 262.0 615.2 262.0 616.1 264.7 619.4 264.6 617.0 266.6 618.9 271.2 616.1 270.2 615.0 267.9 613.7 273.0 M633.5 265.3 637.2 264.2 640.9 269.0 645.4 265.7 651.9 267.7 658.3 270.1 661.0 273.0 664.3 274.8 663.8 277.6 667.5 280.3 669.3 282.2 663.8 281.3 661.0 278.1 657.4 277.0 655.5 279.4 651.9 279.6 648.2 277.8 646.4 278.3 646.0 273.0 639.9 270.2 637.2 270.2 635.4 268.0 633.5 265.3 M665.6 273.0 669.3 273.0 672.0 270.6 671.1 273.5 666.5 274.3 665.6 273.0 M669.8 267.9 673.5 271.2 M678.5 274.8 681.2 276.7 M684.0 277.6 687.6 279.4 M686.7 280.3 688.6 281.3 M698.6 290.4 700.5 292.3 M694.1 300.2 699.6 303.8 M717.9 294.7 720.6 295.9 M602.3 303.3 601.4 308.8 603.3 315.2 604.2 320.7 605.1 325.3 608.8 327.1 613.4 325.3 619.8 324.9 624.4 322.2 629.9 321.1 634.4 320.7 639.0 323.1 641.8 326.8 644.5 324.4 645.4 328.1 647.3 326.8 650.0 332.3 656.5 334.1 662.0 334.5 665.6 332.3 668.4 330.8 670.6 325.3 673.0 321.6 674.8 315.2 673.9 309.7 670.2 306.0 667.5 303.8 665.6 300.5 662.0 297.8 660.1 293.2 659.2 289.5 656.5 288.6 654.6 282.7 652.8 286.8 652.8 293.2 651.0 295.2 648.2 294.1 643.6 291.4 642.7 286.8 644.5 284.9 643.6 284.7 637.2 284.0 633.5 285.3 631.7 287.7 630.8 290.4 628.0 290.4 625.3 288.6 621.6 293.2 617.9 295.0 616.1 298.7 610.6 300.2 606.9 300.9 602.3 303.3 M658.5 337.6 665.3 338.0 664.7 342.2 662.0 342.9 659.6 340.4 658.5 337.6 M709.8 326.2 713.3 329.9 715.1 331.7 720.6 332.1 717.9 335.0 716.1 338.5 713.7 338.7 714.2 336.0 712.0 334.9 713.3 330.8 709.8 326.2 M710.0 337.2 712.9 338.7 710.6 343.3 706.9 345.5 704.1 348.4 698.6 347.3 702.3 343.7 707.8 339.6 710.0 337.2 M474.0 308.8 479.5 308.8 484.0 294.1 485.9 291.4 483.7 284.9 480.4 288.6 474.9 292.6 473.6 301.4 474.0 308.8 M63.1 417.1 90.6 418.0 118.1 419.8 123.6 417.5 110.8 411.6 123.6 409.7 112.6 407.2 104.0 405.3 121.8 403.9 136.5 402.4 151.1 400.9 168.6 397.4 186.0 399.5 209.8 396.5 228.2 397.3 246.5 397.4 254.0 397.4 255.7 393.4 263.0 391.4 266.0 386.8 272.2 384.0 276.6 381.5 286.9 379.6 291.3 379.3 285.0 380.7 279.5 383.1 274.4 386.8 276.8 390.5 280.6 396.0 279.5 399.8 270.0 404.1 283.2 405.7 296.6 406.6 323.4 406.6 338.2 404.2 352.7 398.4 371.8 393.4 394.0 392.1 429.9 391.4 455.1 390.3 475.8 386.8 487.0 383.9 493.0 383.9 503.3 385.5 518.5 387.2 523.5 391.9 531.7 387.2 558.3 385.0 589.1 383.9 633.9 383.9 665.8 388.6 686.7 391.4 704.1 393.4 691.3 401.5 695.9 404.2 686.7 409.6 697.7 414.3 723.4 417.5"/>
</g>
<line x1="63.10" y1="97.70" x2="63.10" y2="86.30" stroke="#000" stroke-width="1.3"/>
<line x1="63.10" y1="428.10" x2="63.10" y2="439.50" stroke="#000" stroke-width="1.3"/>
<line x1="81.44" y1="97.70" x2="81.44" y2="92.00" stroke="#000" stroke-width="1.0"/>
<line x1="81.44" y1="428.10" x2="81.44" y2="433.80" stroke="#000" stroke-width="1.0"/>
<line x1="99.78" y1="97.70" x2="99.78" y2="92.00" stroke="#000" stroke-width="1.0"/>
<line x1="99.78" y1="428.10" x2="99.78" y2="433.80" stroke="#000" stroke-width="1.0"/>
<line x1="118.12" y1="97.70" x2="118.12" y2="86.30" stroke="#000" stroke-width="1.3"/>
<line x1="118.12" y1="428.10" x2="118.12" y2="439.50" stroke="#000" stroke-width="1.3"/>
<line x1="136.47" y1="97.70" x2="136.47" y2="92.00" stroke="#000" stroke-width="1.0"/>
<line x1="136.47" y1="428.10" x2="136.47" y2="433.80" stroke="#000" stroke-width="1.0"/>
<line x1="154.81" y1="97.70" x2="154.81" y2="92.00" stroke="#000" stroke-width="1.0"/>
<line x1="154.81" y1="428.10" x2="154.81" y2="433.80" stroke="#000" stroke-width="1.0"/>
<line x1="173.15" y1="97.70" x2="173.15" y2="86.30" stroke="#000" stroke-width="1.3"/>
<line x1="173.15" y1="428.10" x2="173.15" y2="439.50" stroke="#000" stroke-width="1.3"/>
<line x1="191.49" y1="97.70" x2="191.49" y2="92.00" stroke="#000" stroke-width="1.0"/>
<line x1="191.49" y1="428.10" x2="191.49" y2="433.80" stroke="#000" stroke-width="1.0"/>
<line x1="209.83" y1="97.70" x2="209.83" y2="92.00" stroke="#000" stroke-width="1.0"/>
<line x1="209.83" y1="428.10" x2="209.83" y2="433.80" stroke="#000" stroke-width="1.0"/>
<line x1="228.17" y1="97.70" x2="228.17" y2="86.30" stroke="#000" stroke-width="1.3"/>
<line x1="228.17" y1="428.10" x2="228.17" y2="439.50" stroke="#000" stroke-width="1.3"/>
<line x1="246.52" y1="97.70" x2="246.52" y2="92.00" stroke="#000" stroke-width="1.0"/>
<line x1="246.52" y1="428.10" x2="246.52" y2="433.80" stroke="#000" stroke-width="1.0"/>
<line x1="264.86" y1="97.70" x2="264.86" y2="92.00" stroke="#000" stroke-width="1.0"/>
<line x1="264.86" y1="428.10" x2="264.86" y2="433.80" stroke="#000" stroke-width="1.0"/>
<line x1="283.20" y1="97.70" x2="283.20" y2="86.30" stroke="#000" stroke-width="1.3"/>
<line x1="283.20" y1="428.10" x2="283.20" y2="439.50" stroke="#000" stroke-width="1.3"/>
<line x1="301.54" y1="97.70" x2="301.54" y2="92.00" stroke="#000" stroke-width="1.0"/>
<line x1="301.54" y1="428.10" x2="301.54" y2="433.80" stroke="#000" stroke-width="1.0"/>
<line x1="319.88" y1="97.70" x2="319.88" y2="92.00" stroke="#000" stroke-width="1.0"/>
<line x1="319.88" y1="428.10" x2="319.88" y2="433.80" stroke="#000" stroke-width="1.0"/>
<line x1="338.23" y1="97.70" x2="338.23" y2="86.30" stroke="#000" stroke-width="1.3"/>
<line x1="338.23" y1="428.10" x2="338.23" y2="439.50" stroke="#000" stroke-width="1.3"/>
<line x1="356.57" y1="97.70" x2="356.57" y2="92.00" stroke="#000" stroke-width="1.0"/>
<line x1="356.57" y1="428.10" x2="356.57" y2="433.80" stroke="#000" stroke-width="1.0"/>
<line x1="374.91" y1="97.70" x2="374.91" y2="92.00" stroke="#000" stroke-width="1.0"/>
<line x1="374.91" y1="428.10" x2="374.91" y2="433.80" stroke="#000" stroke-width="1.0"/>
<line x1="393.25" y1="97.70" x2="393.25" y2="86.30" stroke="#000" stroke-width="1.3"/>
<line x1="393.25" y1="428.10" x2="393.25" y2="439.50" stroke="#000" stroke-width="1.3"/>
<line x1="411.59" y1="97.70" x2="411.59" y2="92.00" stroke="#000" stroke-width="1.0"/>
<line x1="411.59" y1="428.10" x2="411.59" y2="433.80" stroke="#000" stroke-width="1.0"/>
<line x1="429.93" y1="97.70" x2="429.93" y2="92.00" stroke="#000" stroke-width="1.0"/>
<line x1="429.93" y1="428.10" x2="429.93" y2="433.80" stroke="#000" stroke-width="1.0"/>
<line x1="448.28" y1="97.70" x2="448.28" y2="86.30" stroke="#000" stroke-width="1.3"/>
<line x1="448.28" y1="428.10" x2="448.28" y2="439.50" stroke="#000" stroke-width="1.3"/>
<line x1="466.62" y1="97.70" x2="466.62" y2="92.00" stroke="#000" stroke-width="1.0"/>
<line x1="466.62" y1="428.10" x2="466.62" y2="433.80" stroke="#000" stroke-width="1.0"/>
<line x1="484.96" y1="97.70" x2="484.96" y2="92.00" stroke="#000" stroke-width="1.0"/>
<line x1="484.96" y1="428.10" x2="484.96" y2="433.80" stroke="#000" stroke-width="1.0"/>
<line x1="503.30" y1="97.70" x2="503.30" y2="86.30" stroke="#000" stroke-width="1.3"/>
<line x1="503.30" y1="428.10" x2="503.30" y2="439.50" stroke="#000" stroke-width="1.3"/>
<line x1="521.64" y1="97.70" x2="521.64" y2="92.00" stroke="#000" stroke-width="1.0"/>
<line x1="521.64" y1="428.10" x2="521.64" y2="433.80" stroke="#000" stroke-width="1.0"/>
<line x1="539.98" y1="97.70" x2="539.98" y2="92.00" stroke="#000" stroke-width="1.0"/>
<line x1="539.98" y1="428.10" x2="539.98" y2="433.80" stroke="#000" stroke-width="1.0"/>
<line x1="558.32" y1="97.70" x2="558.32" y2="86.30" stroke="#000" stroke-width="1.3"/>
<line x1="558.32" y1="428.10" x2="558.32" y2="439.50" stroke="#000" stroke-width="1.3"/>
<line x1="576.67" y1="97.70" x2="576.67" y2="92.00" stroke="#000" stroke-width="1.0"/>
<line x1="576.67" y1="428.10" x2="576.67" y2="433.80" stroke="#000" stroke-width="1.0"/>
<line x1="595.01" y1="97.70" x2="595.01" y2="92.00" stroke="#000" stroke-width="1.0"/>
<line x1="595.01" y1="428.10" x2="595.01" y2="433.80" stroke="#000" stroke-width="1.0"/>
<line x1="613.35" y1="97.70" x2="613.35" y2="86.30" stroke="#000" stroke-width="1.3"/>
<line x1="613.35" y1="428.10" x2="613.35" y2="439.50" stroke="#000" stroke-width="1.3"/>
<line x1="631.69" y1="97.70" x2="631.69" y2="92.00" stroke="#000" stroke-width="1.0"/>
<line x1="631.69" y1="428.10" x2="631.69" y2="433.80" stroke="#000" stroke-width="1.0"/>
<line x1="650.03" y1="97.70" x2="650.03" y2="92.00" stroke="#000" stroke-width="1.0"/>
<line x1="650.03" y1="428.10" x2="650.03" y2="433.80" stroke="#000" stroke-width="1.0"/>
<line x1="668.38" y1="97.70" x2="668.38" y2="86.30" stroke="#000" stroke-width="1.3"/>
<line x1="668.38" y1="428.10" x2="668.38" y2="439.50" stroke="#000" stroke-width="1.3"/>
<line x1="686.72" y1="97.70" x2="686.72" y2="92.00" stroke="#000" stroke-width="1.0"/>
<line x1="686.72" y1="428.10" x2="686.72" y2="433.80" stroke="#000" stroke-width="1.0"/>
<line x1="705.06" y1="97.70" x2="705.06" y2="92.00" stroke="#000" stroke-width="1.0"/>
<line x1="705.06" y1="428.10" x2="705.06" y2="433.80" stroke="#000" stroke-width="1.0"/>
<line x1="723.40" y1="97.70" x2="723.40" y2="86.30" stroke="#000" stroke-width="1.3"/>
<line x1="723.40" y1="428.10" x2="723.40" y2="439.50" stroke="#000" stroke-width="1.3"/>
<line x1="63.10" y1="97.70" x2="51.70" y2="97.70" stroke="#000" stroke-width="1.3"/>
<line x1="723.40" y1="97.70" x2="734.80" y2="97.70" stroke="#000" stroke-width="1.3"/>
<line x1="63.10" y1="116.06" x2="57.40" y2="116.06" stroke="#000" stroke-width="1.0"/>
<line x1="723.40" y1="116.06" x2="729.10" y2="116.06" stroke="#000" stroke-width="1.0"/>
<line x1="63.10" y1="134.41" x2="57.40" y2="134.41" stroke="#000" stroke-width="1.0"/>
<line x1="723.40" y1="134.41" x2="729.10" y2="134.41" stroke="#000" stroke-width="1.0"/>
<line x1="63.10" y1="152.77" x2="51.70" y2="152.77" stroke="#000" stroke-width="1.3"/>
<line x1="723.40" y1="152.77" x2="734.80" y2="152.77" stroke="#000" stroke-width="1.3"/>
<line x1="63.10" y1="171.12" x2="57.40" y2="171.12" stroke="#000" stroke-width="1.0"/>
<line x1="723.40" y1="171.12" x2="729.10" y2="171.12" stroke="#000" stroke-width="1.0"/>
<line x1="63.10" y1="189.48" x2="57.40" y2="189.48" stroke="#000" stroke-width="1.0"/>
<line x1="723.40" y1="189.48" x2="729.10" y2="189.48" stroke="#000" stroke-width="1.0"/>
<line x1="63.10" y1="207.83" x2="51.70" y2="207.83" stroke="#000" stroke-width="1.3"/>
<line x1="723.40" y1="207.83" x2="734.80" y2="207.83" stroke="#000" stroke-width="1.3"/>
<line x1="63.10" y1="226.19" x2="57.40" y2="226.19" stroke="#000" stroke-width="1.0"/>
<line x1="723.40" y1="226.19" x2="729.10" y2="226.19" stroke="#000" stroke-width="1.0"/>
<line x1="63.10" y1="244.54" x2="57.40" y2="244.54" stroke="#000" stroke-width="1.0"/>
<line x1="723.40" y1="244.54" x2="729.10" y2="244.54" stroke="#000" stroke-width="1.0"/>
<line x1="63.10" y1="262.90" x2="51.70" y2="262.90" stroke="#000" stroke-width="1.3"/>
<line x1="723.40" y1="262.90" x2="734.80" y2="262.90" stroke="#000" stroke-width="1.3"/>
<line x1="63.10" y1="281.26" x2="57.40" y2="281.26" stroke="#000" stroke-width="1.0"/>
<line x1="723.40" y1="281.26" x2="729.10" y2="281.26" stroke="#000" stroke-width="1.0"/>
<line x1="63.10" y1="299.61" x2="57.40" y2="299.61" stroke="#000" stroke-width="1.0"/>
<line x1="723.40" y1="299.61" x2="729.10" y2="299.61" stroke="#000" stroke-width="1.0"/>
<line x1="63.10" y1="317.97" x2="51.70" y2="317.97" stroke="#000" stroke-width="1.3"/>
<line x1="723.40" y1="317.97" x2="734.80" y2="317.97" stroke="#000" stroke-width="1.3"/>
<line x1="63.10" y1="336.32" x2="57.40" y2="336.32" stroke="#000" stroke-width="1.0"/>
<line x1="723.40" y1="336.32" x2="729.10" y2="336.32" stroke="#000" stroke-width="1.0"/>
<line x1="63.10" y1="354.68" x2="57.40" y2="354.68" stroke="#000" stroke-width="1.0"/>
<line x1="723.40" y1="354.68" x2="729.10" y2="354.68" stroke="#000" stroke-width="1.0"/>
<line x1="63.10" y1="373.03" x2="51.70" y2="373.03" stroke="#000" stroke-width="1.3"/>
<line x1="723.40" y1="373.03" x2="734.80" y2="373.03" stroke="#000" stroke-width="1.3"/>
<line x1="63.10" y1="391.39" x2="57.40" y2="391.39" stroke="#000" stroke-width="1.0"/>
<line x1="723.40" y1="391.39" x2="729.10" y2="391.39" stroke="#000" stroke-width="1.0"/>
<line x1="63.10" y1="409.74" x2="57.40" y2="409.74" stroke="#000" stroke-width="1.0"/>
<line x1="723.40" y1="409.74" x2="729.10" y2="409.74" stroke="#000" stroke-width="1.0"/>
<line x1="63.10" y1="428.10" x2="51.70" y2="428.10" stroke="#000" stroke-width="1.3"/>
<line x1="723.40" y1="428.10" x2="734.80" y2="428.10" stroke="#000" stroke-width="1.3"/>
<rect x="63.10" y="97.70" width="660.30" height="330.40" fill="none" stroke="#000" stroke-width="1.3"/>
<rect x="150.20" y="473.10" width="16.19" height="29.60" fill="#821eeb"/>
<rect x="166.39" y="473.10" width="16.19" height="29.60" fill="#5812f0"/>
<rect x="182.59" y="473.10" width="16.19" height="29.60" fill="#1e05fa"/>
<rect x="198.78" y="473.10" width="16.19" height="29.60" fill="#1423f5"/>
<rect x="214.97" y="473.10" width="16.19" height="29.60" fill="#324be6"/>
<rect x="231.17" y="473.10" width="16.19" height="29.60" fill="#3c64dc"/>
<rect x="247.36" y="473.10" width="16.19" height="29.60" fill="#3278eb"/>
<rect x="263.55" y="473.10" width="16.19" height="29.60" fill="#2387f0"/>
<rect x="279.75" y="473.10" width="16.19" height="29.60" fill="#1996f5"/>
<rect x="295.94" y="473.10" width="16.19" height="29.60" fill="#0aaffa"/>
<rect x="312.13" y="473.10" width="16.19" height="29.60" fill="#14befa"/>
<rect x="328.33" y="473.10" width="16.19" height="29.60" fill="#50c3f0"/>
<rect x="344.52" y="473.10" width="16.19" height="29.60" fill="#8ccdf0"/>
<rect x="360.71" y="473.10" width="16.19" height="29.60" fill="#a5d7f0"/>
<rect x="376.91" y="473.10" width="16.19" height="29.60" fill="#c3e6f5"/>
<rect x="393.10" y="473.10" width="16.19" height="29.60" fill="#fffab9"/>
<rect x="409.29" y="473.10" width="16.19" height="29.60" fill="#ffeb69"/>
<rect x="425.49" y="473.10" width="16.19" height="29.60" fill="#ffde30"/>
<rect x="441.68" y="473.10" width="16.19" height="29.60" fill="#ffc81e"/>
<rect x="457.87" y="473.10" width="16.19" height="29.60" fill="#ffb20f"/>
<rect x="474.07" y="473.10" width="16.19" height="29.60" fill="#ff9b00"/>
<rect x="490.26" y="473.10" width="16.19" height="29.60" fill="#ff8400"/>
<rect x="506.45" y="473.10" width="16.19" height="29.60" fill="#ff6700"/>
<rect x="522.65" y="473.10" width="16.19" height="29.60" fill="#ff3a00"/>
<rect x="538.84" y="473.10" width="16.19" height="29.60" fill="#ff0e00"/>
<rect x="555.03" y="473.10" width="16.19" height="29.60" fill="#eb0000"/>
<rect x="571.23" y="473.10" width="16.19" height="29.60" fill="#d20000"/>
<rect x="587.42" y="473.10" width="16.19" height="29.60" fill="#d21e1e"/>
<rect x="603.61" y="473.10" width="16.19" height="29.60" fill="#e65a5f"/>
<rect x="619.81" y="473.10" width="16.19" height="29.60" fill="#ffaaaa"/>
<path d="M166.39 473.10V502.70 M182.59 473.10V502.70 M198.78 473.10V502.70 M214.97 473.10V502.70 M231.17 473.10V502.70 M247.36 473.10V502.70 M263.55 473.10V502.70 M279.75 473.10V502.70 M295.94 473.10V502.70 M312.13 473.10V502.70 M328.33 473.10V502.70 M344.52 473.10V502.70 M360.71 473.10V502.70 M376.91 473.10V502.70 M393.10 473.10V502.70 M409.29 473.10V502.70 M425.49 473.10V502.70 M441.68 473.10V502.70 M457.87 473.10V502.70 M474.07 473.10V502.70 M490.26 473.10V502.70 M506.45 473.10V502.70 M522.65 473.10V502.70 M538.84 473.10V502.70 M555.03 473.10V502.70 M571.23 473.10V502.70 M587.42 473.10V502.70 M603.61 473.10V502.70 M619.81 473.10V502.70" stroke="#000" stroke-width="1" fill="none" opacity="0.75"/>
<rect x="150.20" y="473.10" width="485.80" height="29.60" fill="none" stroke="#000" stroke-width="1" opacity="0.75"/>
</svg>
<div class="t" style="left:61.4px;top:64.6px;font-size:19.15px">PV: NCL derived</div>
<div class="t" style="left:296.5px;top:61px">495.869 hPa (Nominal)</div>
<div class="t" style="right:25.5px;top:60px">K m2/kg/s</div>
<div class="yl" style="top:89.2px">90N</div>
<div class="yl" style="top:144.3px">60N</div>
<div class="yl" style="top:199.3px">30N</div>
<div class="yl" style="top:254.4px">0</div>
<div class="yl" style="top:309.5px">30S</div>
<div class="yl" style="top:364.5px">60S</div>
<div class="yl" style="top:419.6px">90S</div>
<div class="xl" style="left:23.1px">180</div>
<div class="xl" style="left:78.1px">150W</div>
<div class="xl" style="left:133.1px">120W</div>
<div class="xl" style="left:188.2px">90W</div>
<div class="xl" style="left:243.2px">60W</div>
<div class="xl" style="left:298.2px">30W</div>
<div class="xl" style="left:353.2px">0</div>
<div class="xl" style="left:408.3px">30E</div>
<div class="xl" style="left:463.3px">60E</div>
<div class="xl" style="left:518.3px">90E</div>
<div class="xl" style="left:573.4px">120E</div>
<div class="xl" style="left:628.4px">150E</div>
<div class="xl" style="left:683.4px">180</div>
<div class="cl" style="left:148.8px">-1.5e-06</div>
<div class="cl" style="left:213.6px">-1e-06</div>
<div class="cl" style="left:278.3px">-5e-07</div>
<div class="cl" style="left:343.1px">0</div>
<div class="cl" style="left:407.9px">5e-07</div>
<div class="cl" style="left:472.6px">1e-06</div>
<div class="cl" style="left:537.4px">1.5e-06</div>
</body></html>
